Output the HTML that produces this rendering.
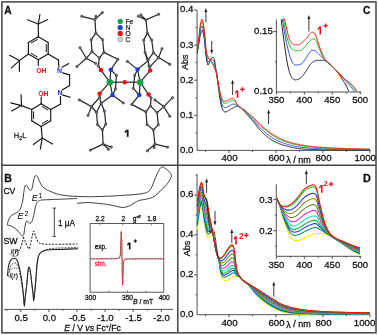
<!DOCTYPE html>
<html><head><meta charset="utf-8"><style>
html,body{margin:0;padding:0;background:#fff;}
body{width:378px;height:335px;overflow:hidden;}
svg{display:block;font-family:"Liberation Sans",sans-serif;will-change:transform;}
</style></head><body>
<svg width="378" height="335" viewBox="0 0 378 335">
<rect width="378" height="335" fill="#fff"/>
<line x1="38.3" y1="36.7" x2="48.2" y2="42.45" stroke="#141414" stroke-width="1.15" stroke-linecap="round"/>
<line x1="48.2" y1="42.45" x2="48.2" y2="53.95" stroke="#141414" stroke-width="1.15" stroke-linecap="round"/>
<line x1="48.2" y1="53.95" x2="38.3" y2="59.7" stroke="#141414" stroke-width="1.15" stroke-linecap="round"/>
<line x1="38.3" y1="59.7" x2="28.4" y2="53.95" stroke="#141414" stroke-width="1.15" stroke-linecap="round"/>
<line x1="28.4" y1="53.95" x2="28.4" y2="42.45" stroke="#141414" stroke-width="1.15" stroke-linecap="round"/>
<line x1="28.4" y1="42.45" x2="38.3" y2="36.7" stroke="#141414" stroke-width="1.15" stroke-linecap="round"/>
<line x1="37.27" y1="39.5" x2="31.33" y2="42.95" stroke="#141414" stroke-width="1" stroke-linecap="round"/>
<line x1="31.33" y1="53.45" x2="37.27" y2="56.9" stroke="#141414" stroke-width="1" stroke-linecap="round"/>
<line x1="46.3" y1="44.75" x2="46.3" y2="51.65" stroke="#141414" stroke-width="1" stroke-linecap="round"/>
<line x1="41.2" y1="103.8" x2="50.7" y2="109.45" stroke="#141414" stroke-width="1.15" stroke-linecap="round"/>
<line x1="50.7" y1="109.45" x2="50.7" y2="120.75" stroke="#141414" stroke-width="1.15" stroke-linecap="round"/>
<line x1="50.7" y1="120.75" x2="41.2" y2="126.4" stroke="#141414" stroke-width="1.15" stroke-linecap="round"/>
<line x1="41.2" y1="126.4" x2="31.7" y2="120.75" stroke="#141414" stroke-width="1.15" stroke-linecap="round"/>
<line x1="31.7" y1="120.75" x2="31.7" y2="109.45" stroke="#141414" stroke-width="1.15" stroke-linecap="round"/>
<line x1="31.7" y1="109.45" x2="41.2" y2="103.8" stroke="#141414" stroke-width="1.15" stroke-linecap="round"/>
<line x1="42.17" y1="106.59" x2="47.87" y2="109.98" stroke="#141414" stroke-width="1" stroke-linecap="round"/>
<line x1="33.6" y1="111.71" x2="33.6" y2="118.49" stroke="#141414" stroke-width="1" stroke-linecap="round"/>
<line x1="42.17" y1="123.61" x2="47.87" y2="120.22" stroke="#141414" stroke-width="1" stroke-linecap="round"/>
<line x1="38.3" y1="36.7" x2="38.3" y2="24" stroke="#141414" stroke-width="1.15" stroke-linecap="round"/>
<line x1="38.3" y1="24" x2="27.4" y2="19.8" stroke="#141414" stroke-width="1.15" stroke-linecap="round"/>
<line x1="38.3" y1="24" x2="47.7" y2="19.5" stroke="#141414" stroke-width="1.15" stroke-linecap="round"/>
<line x1="38.3" y1="24" x2="39.9" y2="14.6" stroke="#141414" stroke-width="1.15" stroke-linecap="round"/>
<line x1="28.4" y1="53.95" x2="19.4" y2="60.6" stroke="#141414" stroke-width="1.15" stroke-linecap="round"/>
<line x1="19.4" y1="60.6" x2="9.6" y2="55.3" stroke="#141414" stroke-width="1.15" stroke-linecap="round"/>
<line x1="19.4" y1="60.6" x2="11.2" y2="68.1" stroke="#141414" stroke-width="1.15" stroke-linecap="round"/>
<line x1="19.4" y1="60.6" x2="19.4" y2="71.2" stroke="#141414" stroke-width="1.15" stroke-linecap="round"/>
<line x1="38.3" y1="59.7" x2="38.3" y2="65.6" stroke="#141414" stroke-width="1.15" stroke-linecap="round"/>
<line x1="48.2" y1="53.95" x2="58.4" y2="59.9" stroke="#141414" stroke-width="1.15" stroke-linecap="round"/>
<line x1="58.4" y1="59.9" x2="58.9" y2="67.2" stroke="#141414" stroke-width="1.15" stroke-linecap="round"/>
<line x1="62.2" y1="67.2" x2="68.8" y2="63.6" stroke="#141414" stroke-width="1.15" stroke-linecap="round"/>
<line x1="62.6" y1="72.9" x2="69.6" y2="74.9" stroke="#141414" stroke-width="1.15" stroke-linecap="round"/>
<line x1="69.6" y1="74.9" x2="69.6" y2="85.4" stroke="#141414" stroke-width="1.15" stroke-linecap="round"/>
<line x1="69.6" y1="85.4" x2="62.6" y2="89.8" stroke="#141414" stroke-width="1.15" stroke-linecap="round"/>
<line x1="62.8" y1="95.1" x2="70.3" y2="97.3" stroke="#141414" stroke-width="1.15" stroke-linecap="round"/>
<line x1="60.4" y1="96.3" x2="60.6" y2="104" stroke="#141414" stroke-width="1.15" stroke-linecap="round"/>
<line x1="60.6" y1="104" x2="50.7" y2="109.45" stroke="#141414" stroke-width="1.15" stroke-linecap="round"/>
<line x1="41.2" y1="103.8" x2="41.2" y2="97" stroke="#141414" stroke-width="1.15" stroke-linecap="round"/>
<line x1="31.7" y1="109.45" x2="21.5" y2="105.6" stroke="#141414" stroke-width="1.15" stroke-linecap="round"/>
<line x1="21.5" y1="105.6" x2="10.8" y2="102.9" stroke="#141414" stroke-width="1.15" stroke-linecap="round"/>
<line x1="21.5" y1="105.6" x2="11.6" y2="111" stroke="#141414" stroke-width="1.15" stroke-linecap="round"/>
<line x1="21.5" y1="105.6" x2="21.1" y2="94.9" stroke="#141414" stroke-width="1.15" stroke-linecap="round"/>
<line x1="41.2" y1="126.4" x2="42.2" y2="138.1" stroke="#141414" stroke-width="1.15" stroke-linecap="round"/>
<line x1="42.2" y1="138.1" x2="33.4" y2="144.5" stroke="#141414" stroke-width="1.15" stroke-linecap="round"/>
<line x1="42.2" y1="138.1" x2="52.5" y2="143.9" stroke="#141414" stroke-width="1.15" stroke-linecap="round"/>
<line x1="42.2" y1="138.1" x2="40.4" y2="148.9" stroke="#141414" stroke-width="1.15" stroke-linecap="round"/>
<text x="41.4" y="73.4" font-size="6.9" fill="#ee1c24" text-anchor="middle" font-weight="bold">OH</text>
<text x="43.4" y="95.9" font-size="6.9" fill="#ee1c24" text-anchor="middle" font-weight="bold">OH</text>
<text x="59.5" y="73.3" font-size="7" fill="#1530cc" text-anchor="middle" font-weight="bold">N</text>
<text x="60" y="95.1" font-size="7" fill="#1530cc" text-anchor="middle" font-weight="bold">N</text>
<text x="13.8" y="137.7" font-size="7.6" fill="#333" stroke="#333" stroke-width="0.35">H<tspan font-size="5.2" dy="1.9">2</tspan><tspan dy="-1.9">L</tspan></text>
<line x1="95.8" y1="33.1" x2="102.6" y2="39.7" stroke="#262626" stroke-width="1.2"/>
<line x1="102.6" y1="39.7" x2="103.9" y2="52.4" stroke="#262626" stroke-width="1.2"/>
<line x1="103.9" y1="52.4" x2="99.3" y2="57.9" stroke="#262626" stroke-width="1.2"/>
<line x1="99.3" y1="57.9" x2="92" y2="51.6" stroke="#262626" stroke-width="1.2"/>
<line x1="92" y1="51.6" x2="91.2" y2="39.7" stroke="#262626" stroke-width="1.2"/>
<line x1="91.2" y1="39.7" x2="95.8" y2="33.1" stroke="#262626" stroke-width="1.2"/>
<line x1="95.8" y1="33.1" x2="94.9" y2="19.6" stroke="#262626" stroke-width="1.2"/>
<line x1="94.9" y1="19.6" x2="81.8" y2="16.3" stroke="#262626" stroke-width="1.2"/>
<line x1="94.9" y1="19.6" x2="102.4" y2="12.5" stroke="#262626" stroke-width="1.2"/>
<line x1="94.9" y1="19.6" x2="95.9" y2="16.3" stroke="#262626" stroke-width="1.2"/>
<line x1="92" y1="51.6" x2="86.3" y2="58.3" stroke="#262626" stroke-width="1.2"/>
<line x1="86.3" y1="58.3" x2="80" y2="47.8" stroke="#262626" stroke-width="1.2"/>
<line x1="86.3" y1="58.3" x2="76.9" y2="66.6" stroke="#262626" stroke-width="1.2"/>
<line x1="86.3" y1="58.3" x2="95.7" y2="63.5" stroke="#262626" stroke-width="1.2"/>
<line x1="99.3" y1="57.9" x2="98.3" y2="66.1" stroke="#262626" stroke-width="1.2"/>
<line x1="98.3" y1="66.1" x2="100.9" y2="70.1" stroke="#262626" stroke-width="1.2"/>
<line x1="103.9" y1="52.4" x2="117.8" y2="59.3" stroke="#262626" stroke-width="1.2"/>
<line x1="117.8" y1="59.3" x2="110.8" y2="69.8" stroke="#262626" stroke-width="1.2"/>
<line x1="110.8" y1="69.8" x2="116.4" y2="75.4" stroke="#262626" stroke-width="1.2"/>
<line x1="116.4" y1="75.4" x2="115.5" y2="88.8" stroke="#262626" stroke-width="1.2"/>
<line x1="115.5" y1="88.8" x2="112.5" y2="95.1" stroke="#262626" stroke-width="1.2"/>
<line x1="100.9" y1="70.1" x2="109.8" y2="82.2" stroke="#262626" stroke-width="1.2"/>
<line x1="110.8" y1="69.8" x2="109.8" y2="82.2" stroke="#262626" stroke-width="1.2"/>
<line x1="99.6" y1="93.7" x2="109.8" y2="82.2" stroke="#262626" stroke-width="1.2"/>
<line x1="112.5" y1="95.1" x2="109.8" y2="82.2" stroke="#262626" stroke-width="1.2"/>
<line x1="109.8" y1="82.2" x2="124.7" y2="82.2" stroke="#262626" stroke-width="1.2"/>
<line x1="124.7" y1="82.2" x2="140.2" y2="82.2" stroke="#262626" stroke-width="1.2"/>
<line x1="101.2" y1="103.3" x2="104.5" y2="111.3" stroke="#262626" stroke-width="1.2"/>
<line x1="104.5" y1="111.3" x2="105.8" y2="124.1" stroke="#262626" stroke-width="1.2"/>
<line x1="105.8" y1="124.1" x2="102.4" y2="129.9" stroke="#262626" stroke-width="1.2"/>
<line x1="102.4" y1="129.9" x2="97.5" y2="124.5" stroke="#262626" stroke-width="1.2"/>
<line x1="97.5" y1="124.5" x2="96.5" y2="112.5" stroke="#262626" stroke-width="1.2"/>
<line x1="96.5" y1="112.5" x2="101.2" y2="103.3" stroke="#262626" stroke-width="1.2"/>
<line x1="99.6" y1="93.7" x2="99.6" y2="97.4" stroke="#262626" stroke-width="1.2"/>
<line x1="99.6" y1="97.4" x2="101.2" y2="103.3" stroke="#262626" stroke-width="1.2"/>
<line x1="112.5" y1="95.1" x2="101.2" y2="103.3" stroke="#262626" stroke-width="1.2"/>
<line x1="112.5" y1="95.1" x2="123.3" y2="102.9" stroke="#262626" stroke-width="1.2"/>
<line x1="96.5" y1="112.5" x2="91.5" y2="106.5" stroke="#262626" stroke-width="1.2"/>
<line x1="91.5" y1="106.5" x2="79.2" y2="99.9" stroke="#262626" stroke-width="1.2"/>
<line x1="91.5" y1="106.5" x2="88.1" y2="115.4" stroke="#262626" stroke-width="1.2"/>
<line x1="91.5" y1="106.5" x2="99.6" y2="97.4" stroke="#262626" stroke-width="1.2"/>
<line x1="102.4" y1="129.9" x2="103.1" y2="144.1" stroke="#262626" stroke-width="1.2"/>
<line x1="103.1" y1="144.1" x2="90.4" y2="150.1" stroke="#262626" stroke-width="1.2"/>
<line x1="103.1" y1="144.1" x2="108.4" y2="149.3" stroke="#262626" stroke-width="1.2"/>
<line x1="103.1" y1="144.1" x2="111.3" y2="147.1" stroke="#262626" stroke-width="1.2"/>
<line x1="147.4" y1="33.1" x2="151.7" y2="40.1" stroke="#262626" stroke-width="1.2"/>
<line x1="151.7" y1="40.1" x2="153.4" y2="52.6" stroke="#262626" stroke-width="1.2"/>
<line x1="153.4" y1="52.6" x2="148.1" y2="59.9" stroke="#262626" stroke-width="1.2"/>
<line x1="148.1" y1="59.9" x2="145.1" y2="52.6" stroke="#262626" stroke-width="1.2"/>
<line x1="145.1" y1="52.6" x2="143.7" y2="40.1" stroke="#262626" stroke-width="1.2"/>
<line x1="143.7" y1="40.1" x2="147.4" y2="33.1" stroke="#262626" stroke-width="1.2"/>
<line x1="147.4" y1="33.1" x2="145.9" y2="19.9" stroke="#262626" stroke-width="1.2"/>
<line x1="145.9" y1="19.9" x2="138.4" y2="16.2" stroke="#262626" stroke-width="1.2"/>
<line x1="145.9" y1="19.9" x2="140.9" y2="15" stroke="#262626" stroke-width="1.2"/>
<line x1="145.9" y1="19.9" x2="158.6" y2="14.3" stroke="#262626" stroke-width="1.2"/>
<line x1="153.4" y1="52.6" x2="158.6" y2="57.6" stroke="#262626" stroke-width="1.2"/>
<line x1="158.6" y1="57.6" x2="162" y2="48.7" stroke="#262626" stroke-width="1.2"/>
<line x1="158.6" y1="57.6" x2="169.8" y2="64.3" stroke="#262626" stroke-width="1.2"/>
<line x1="158.6" y1="57.6" x2="149.8" y2="66.9" stroke="#262626" stroke-width="1.2"/>
<line x1="148.1" y1="59.9" x2="148.9" y2="65.8" stroke="#262626" stroke-width="1.2"/>
<line x1="148.9" y1="65.8" x2="150.1" y2="70.6" stroke="#262626" stroke-width="1.2"/>
<line x1="145.1" y1="52.6" x2="147.6" y2="61.3" stroke="#262626" stroke-width="1.2"/>
<line x1="147.6" y1="61.3" x2="137.5" y2="69.4" stroke="#262626" stroke-width="1.2"/>
<line x1="137.5" y1="69.4" x2="127.4" y2="61.4" stroke="#262626" stroke-width="1.2"/>
<line x1="137.5" y1="69.4" x2="134.7" y2="75.4" stroke="#262626" stroke-width="1.2"/>
<line x1="134.7" y1="75.4" x2="133.3" y2="88.4" stroke="#262626" stroke-width="1.2"/>
<line x1="133.3" y1="88.4" x2="139.3" y2="95" stroke="#262626" stroke-width="1.2"/>
<line x1="137.5" y1="69.4" x2="140.2" y2="82.2" stroke="#262626" stroke-width="1.2"/>
<line x1="150.1" y1="70.6" x2="140.2" y2="82.2" stroke="#262626" stroke-width="1.2"/>
<line x1="139.3" y1="95" x2="140.2" y2="82.2" stroke="#262626" stroke-width="1.2"/>
<line x1="148.6" y1="94.6" x2="140.2" y2="82.2" stroke="#262626" stroke-width="1.2"/>
<line x1="150.4" y1="105.9" x2="157.1" y2="112.6" stroke="#262626" stroke-width="1.2"/>
<line x1="157.1" y1="112.6" x2="158.3" y2="124.8" stroke="#262626" stroke-width="1.2"/>
<line x1="158.3" y1="124.8" x2="153.4" y2="129.9" stroke="#262626" stroke-width="1.2"/>
<line x1="153.4" y1="129.9" x2="147" y2="124.5" stroke="#262626" stroke-width="1.2"/>
<line x1="147" y1="124.5" x2="145.9" y2="111.9" stroke="#262626" stroke-width="1.2"/>
<line x1="145.9" y1="111.9" x2="150.4" y2="105.9" stroke="#262626" stroke-width="1.2"/>
<line x1="148.6" y1="94.6" x2="151.1" y2="97.9" stroke="#262626" stroke-width="1.2"/>
<line x1="151.1" y1="97.9" x2="150.4" y2="105.9" stroke="#262626" stroke-width="1.2"/>
<line x1="139.3" y1="95" x2="131.7" y2="104.4" stroke="#262626" stroke-width="1.2"/>
<line x1="131.7" y1="104.4" x2="145.9" y2="111.9" stroke="#262626" stroke-width="1.2"/>
<line x1="157.1" y1="112.6" x2="163.8" y2="106.6" stroke="#262626" stroke-width="1.2"/>
<line x1="163.8" y1="106.6" x2="154.9" y2="99.9" stroke="#262626" stroke-width="1.2"/>
<line x1="163.8" y1="106.6" x2="172.5" y2="97.7" stroke="#262626" stroke-width="1.2"/>
<line x1="163.8" y1="106.6" x2="169.8" y2="116.3" stroke="#262626" stroke-width="1.2"/>
<line x1="153.4" y1="129.9" x2="154.9" y2="144.1" stroke="#262626" stroke-width="1.2"/>
<line x1="154.9" y1="144.1" x2="147.4" y2="150.8" stroke="#262626" stroke-width="1.2"/>
<line x1="154.9" y1="144.1" x2="167.5" y2="147.1" stroke="#262626" stroke-width="1.2"/>
<line x1="154.9" y1="144.1" x2="154.1" y2="147.6" stroke="#262626" stroke-width="1.2"/>
<circle cx="95.8" cy="33.1" r="1.2" fill="#777" stroke="#2a2a2a" stroke-width="0.55"/>
<circle cx="102.6" cy="39.7" r="1.2" fill="#777" stroke="#2a2a2a" stroke-width="0.55"/>
<circle cx="103.9" cy="52.4" r="1.2" fill="#777" stroke="#2a2a2a" stroke-width="0.55"/>
<circle cx="99.3" cy="57.9" r="1.2" fill="#777" stroke="#2a2a2a" stroke-width="0.55"/>
<circle cx="92" cy="51.6" r="1.2" fill="#777" stroke="#2a2a2a" stroke-width="0.55"/>
<circle cx="91.2" cy="39.7" r="1.2" fill="#777" stroke="#2a2a2a" stroke-width="0.55"/>
<circle cx="94.9" cy="19.6" r="1.2" fill="#777" stroke="#2a2a2a" stroke-width="0.55"/>
<circle cx="81.8" cy="16.3" r="1.2" fill="#777" stroke="#2a2a2a" stroke-width="0.55"/>
<circle cx="102.4" cy="12.5" r="1.2" fill="#777" stroke="#2a2a2a" stroke-width="0.55"/>
<circle cx="95.9" cy="16.3" r="1.2" fill="#777" stroke="#2a2a2a" stroke-width="0.55"/>
<circle cx="86.3" cy="58.3" r="1.2" fill="#777" stroke="#2a2a2a" stroke-width="0.55"/>
<circle cx="80" cy="47.8" r="1.2" fill="#777" stroke="#2a2a2a" stroke-width="0.55"/>
<circle cx="76.9" cy="66.6" r="1.2" fill="#777" stroke="#2a2a2a" stroke-width="0.55"/>
<circle cx="95.7" cy="63.5" r="1.2" fill="#777" stroke="#2a2a2a" stroke-width="0.55"/>
<circle cx="98.3" cy="66.1" r="1.2" fill="#777" stroke="#2a2a2a" stroke-width="0.55"/>
<circle cx="117.8" cy="59.3" r="1.2" fill="#777" stroke="#2a2a2a" stroke-width="0.55"/>
<circle cx="116.4" cy="75.4" r="1.2" fill="#777" stroke="#2a2a2a" stroke-width="0.55"/>
<circle cx="115.5" cy="88.8" r="1.2" fill="#777" stroke="#2a2a2a" stroke-width="0.55"/>
<circle cx="101.2" cy="103.3" r="1.2" fill="#777" stroke="#2a2a2a" stroke-width="0.55"/>
<circle cx="104.5" cy="111.3" r="1.2" fill="#777" stroke="#2a2a2a" stroke-width="0.55"/>
<circle cx="105.8" cy="124.1" r="1.2" fill="#777" stroke="#2a2a2a" stroke-width="0.55"/>
<circle cx="102.4" cy="129.9" r="1.2" fill="#777" stroke="#2a2a2a" stroke-width="0.55"/>
<circle cx="97.5" cy="124.5" r="1.2" fill="#777" stroke="#2a2a2a" stroke-width="0.55"/>
<circle cx="96.5" cy="112.5" r="1.2" fill="#777" stroke="#2a2a2a" stroke-width="0.55"/>
<circle cx="99.6" cy="97.4" r="1.2" fill="#777" stroke="#2a2a2a" stroke-width="0.55"/>
<circle cx="123.3" cy="102.9" r="1.2" fill="#777" stroke="#2a2a2a" stroke-width="0.55"/>
<circle cx="91.5" cy="106.5" r="1.2" fill="#777" stroke="#2a2a2a" stroke-width="0.55"/>
<circle cx="79.2" cy="99.9" r="1.2" fill="#777" stroke="#2a2a2a" stroke-width="0.55"/>
<circle cx="88.1" cy="115.4" r="1.2" fill="#777" stroke="#2a2a2a" stroke-width="0.55"/>
<circle cx="103.1" cy="144.1" r="1.2" fill="#777" stroke="#2a2a2a" stroke-width="0.55"/>
<circle cx="90.4" cy="150.1" r="1.2" fill="#777" stroke="#2a2a2a" stroke-width="0.55"/>
<circle cx="108.4" cy="149.3" r="1.2" fill="#777" stroke="#2a2a2a" stroke-width="0.55"/>
<circle cx="111.3" cy="147.1" r="1.2" fill="#777" stroke="#2a2a2a" stroke-width="0.55"/>
<circle cx="147.4" cy="33.1" r="1.2" fill="#777" stroke="#2a2a2a" stroke-width="0.55"/>
<circle cx="151.7" cy="40.1" r="1.2" fill="#777" stroke="#2a2a2a" stroke-width="0.55"/>
<circle cx="153.4" cy="52.6" r="1.2" fill="#777" stroke="#2a2a2a" stroke-width="0.55"/>
<circle cx="148.1" cy="59.9" r="1.2" fill="#777" stroke="#2a2a2a" stroke-width="0.55"/>
<circle cx="145.1" cy="52.6" r="1.2" fill="#777" stroke="#2a2a2a" stroke-width="0.55"/>
<circle cx="143.7" cy="40.1" r="1.2" fill="#777" stroke="#2a2a2a" stroke-width="0.55"/>
<circle cx="145.9" cy="19.9" r="1.2" fill="#777" stroke="#2a2a2a" stroke-width="0.55"/>
<circle cx="138.4" cy="16.2" r="1.2" fill="#777" stroke="#2a2a2a" stroke-width="0.55"/>
<circle cx="140.9" cy="15" r="1.2" fill="#777" stroke="#2a2a2a" stroke-width="0.55"/>
<circle cx="158.6" cy="14.3" r="1.2" fill="#777" stroke="#2a2a2a" stroke-width="0.55"/>
<circle cx="158.6" cy="57.6" r="1.2" fill="#777" stroke="#2a2a2a" stroke-width="0.55"/>
<circle cx="162" cy="48.7" r="1.2" fill="#777" stroke="#2a2a2a" stroke-width="0.55"/>
<circle cx="169.8" cy="64.3" r="1.2" fill="#777" stroke="#2a2a2a" stroke-width="0.55"/>
<circle cx="149.8" cy="66.9" r="1.2" fill="#777" stroke="#2a2a2a" stroke-width="0.55"/>
<circle cx="148.9" cy="65.8" r="1.2" fill="#777" stroke="#2a2a2a" stroke-width="0.55"/>
<circle cx="127.4" cy="61.4" r="1.2" fill="#777" stroke="#2a2a2a" stroke-width="0.55"/>
<circle cx="134.7" cy="75.4" r="1.2" fill="#777" stroke="#2a2a2a" stroke-width="0.55"/>
<circle cx="133.3" cy="88.4" r="1.2" fill="#777" stroke="#2a2a2a" stroke-width="0.55"/>
<circle cx="150.4" cy="105.9" r="1.2" fill="#777" stroke="#2a2a2a" stroke-width="0.55"/>
<circle cx="157.1" cy="112.6" r="1.2" fill="#777" stroke="#2a2a2a" stroke-width="0.55"/>
<circle cx="158.3" cy="124.8" r="1.2" fill="#777" stroke="#2a2a2a" stroke-width="0.55"/>
<circle cx="153.4" cy="129.9" r="1.2" fill="#777" stroke="#2a2a2a" stroke-width="0.55"/>
<circle cx="147" cy="124.5" r="1.2" fill="#777" stroke="#2a2a2a" stroke-width="0.55"/>
<circle cx="145.9" cy="111.9" r="1.2" fill="#777" stroke="#2a2a2a" stroke-width="0.55"/>
<circle cx="151.1" cy="97.9" r="1.2" fill="#777" stroke="#2a2a2a" stroke-width="0.55"/>
<circle cx="131.7" cy="104.4" r="1.2" fill="#777" stroke="#2a2a2a" stroke-width="0.55"/>
<circle cx="163.8" cy="106.6" r="1.2" fill="#777" stroke="#2a2a2a" stroke-width="0.55"/>
<circle cx="154.9" cy="99.9" r="1.2" fill="#777" stroke="#2a2a2a" stroke-width="0.55"/>
<circle cx="172.5" cy="97.7" r="1.2" fill="#777" stroke="#2a2a2a" stroke-width="0.55"/>
<circle cx="169.8" cy="116.3" r="1.2" fill="#777" stroke="#2a2a2a" stroke-width="0.55"/>
<circle cx="154.9" cy="144.1" r="1.2" fill="#777" stroke="#2a2a2a" stroke-width="0.55"/>
<circle cx="147.4" cy="150.8" r="1.2" fill="#777" stroke="#2a2a2a" stroke-width="0.55"/>
<circle cx="167.5" cy="147.1" r="1.2" fill="#777" stroke="#2a2a2a" stroke-width="0.55"/>
<circle cx="154.1" cy="147.6" r="1.2" fill="#777" stroke="#2a2a2a" stroke-width="0.55"/>
<circle cx="109.8" cy="82.2" r="3.3" fill="#16a04a"/>
<circle cx="140.2" cy="82.2" r="3.3" fill="#16a04a"/>
<circle cx="110.8" cy="69.8" r="2.25" fill="#1f3fd0"/>
<circle cx="112.5" cy="95.1" r="2.25" fill="#1f3fd0"/>
<circle cx="137.5" cy="69.4" r="2.25" fill="#1f3fd0"/>
<circle cx="139.3" cy="95" r="2.25" fill="#1f3fd0"/>
<circle cx="100.9" cy="70.1" r="2.25" fill="#ee1111"/>
<circle cx="99.6" cy="93.7" r="2.25" fill="#ee1111"/>
<circle cx="150.1" cy="70.6" r="2.25" fill="#ee1111"/>
<circle cx="148.6" cy="94.6" r="2.25" fill="#ee1111"/>
<circle cx="124.7" cy="82.2" r="2.25" fill="#ee1111"/>
<circle cx="120.2" cy="21.4" r="2.6" fill="#16a04a"/>
<circle cx="120.2" cy="27.5" r="2.6" fill="#1f3fd0"/>
<circle cx="120.2" cy="33.4" r="2.6" fill="#ee1111"/>
<circle cx="120.2" cy="39.4" r="2.6" fill="#c8d0d0" stroke="#8a9090" stroke-width="0.5"/>
<text x="125.4" y="23.8" font-size="6.7" fill="#222" stroke="#222" stroke-width="0.25">Fe</text>
<text x="125.4" y="30" font-size="6.7" fill="#222" stroke="#222" stroke-width="0.25">N</text>
<text x="125.4" y="35.9" font-size="6.7" fill="#222" stroke="#222" stroke-width="0.25">O</text>
<text x="125.4" y="41.9" font-size="6.7" fill="#222" stroke="#222" stroke-width="0.25">C</text>
<rect x="1.9" y="1.9" width="374.1" height="330.9" fill="none" stroke="#444" stroke-width="1.5"/>
<line x1="177.8" y1="1.8" x2="177.8" y2="332.8" stroke="#444" stroke-width="1.5"/>
<line x1="1.9" y1="165.2" x2="375.8" y2="165.2" stroke="#444" stroke-width="1.6"/>
<text x="4.2" y="14.4" font-size="10.2" text-anchor="start" font-weight="bold" font-style="normal" fill="#111" stroke="#111" stroke-width="0.28">A</text>
<text x="4.2" y="181.8" font-size="10.6" text-anchor="start" font-weight="bold" font-style="normal" fill="#111" stroke="#111" stroke-width="0.28">B</text>
<text x="363" y="14" font-size="10.2" text-anchor="start" font-weight="bold" font-style="normal" fill="#111" stroke="#111" stroke-width="0.28">C</text>
<text x="363" y="181.5" font-size="10.9" text-anchor="start" font-weight="bold" font-style="normal" fill="#111" stroke="#111" stroke-width="0.28">D</text>
<line x1="197.1" y1="10.2" x2="197.1" y2="150.4" stroke="#333" stroke-width="0.85"/>
<line x1="194.1" y1="115.3" x2="197.1" y2="115.3" stroke="#333" stroke-width="0.85"/>
<line x1="194.1" y1="80.2" x2="197.1" y2="80.2" stroke="#333" stroke-width="0.85"/>
<line x1="194.1" y1="45.1" x2="197.1" y2="45.1" stroke="#333" stroke-width="0.85"/>
<line x1="194.1" y1="10" x2="197.1" y2="10" stroke="#333" stroke-width="0.85"/>
<line x1="195.5" y1="132.85" x2="197.1" y2="132.85" stroke="#333" stroke-width="0.8"/>
<line x1="195.5" y1="97.75" x2="197.1" y2="97.75" stroke="#333" stroke-width="0.8"/>
<line x1="195.5" y1="62.65" x2="197.1" y2="62.65" stroke="#333" stroke-width="0.8"/>
<line x1="195.5" y1="27.55" x2="197.1" y2="27.55" stroke="#333" stroke-width="0.8"/>
<text x="193.5" y="152.8" font-size="9.7" text-anchor="end" font-weight="normal" font-style="normal" fill="#111" stroke="#111" stroke-width="0.28">0.0</text>
<text x="193.5" y="117.7" font-size="9.7" text-anchor="end" font-weight="normal" font-style="normal" fill="#111" stroke="#111" stroke-width="0.28">0.1</text>
<text x="193.5" y="82.6" font-size="9.7" text-anchor="end" font-weight="normal" font-style="normal" fill="#111" stroke="#111" stroke-width="0.28">0.2</text>
<text x="193.5" y="47.5" font-size="9.7" text-anchor="end" font-weight="normal" font-style="normal" fill="#111" stroke="#111" stroke-width="0.28">0.3</text>
<text x="193.5" y="12.4" font-size="9.7" text-anchor="end" font-weight="normal" font-style="normal" fill="#111" stroke="#111" stroke-width="0.28">0.4</text>
<line x1="197.1" y1="150.4" x2="370.5" y2="150.4" stroke="#333" stroke-width="0.85"/>
<line x1="228.98" y1="150.4" x2="228.98" y2="153" stroke="#333" stroke-width="0.85"/>
<line x1="275.94" y1="150.4" x2="275.94" y2="153" stroke="#333" stroke-width="0.85"/>
<line x1="322.9" y1="150.4" x2="322.9" y2="153" stroke="#333" stroke-width="0.85"/>
<line x1="369.86" y1="150.4" x2="369.86" y2="153" stroke="#333" stroke-width="0.85"/>
<line x1="205.5" y1="150.4" x2="205.5" y2="151.9" stroke="#333" stroke-width="0.8"/>
<line x1="252.46" y1="150.4" x2="252.46" y2="151.9" stroke="#333" stroke-width="0.8"/>
<line x1="299.42" y1="150.4" x2="299.42" y2="151.9" stroke="#333" stroke-width="0.8"/>
<line x1="346.38" y1="150.4" x2="346.38" y2="151.9" stroke="#333" stroke-width="0.8"/>
<text x="229.58" y="161.3" font-size="9.7" text-anchor="middle" font-weight="normal" font-style="normal" fill="#111" stroke="#111" stroke-width="0.28">400</text>
<text x="276.54" y="161.3" font-size="9.7" text-anchor="middle" font-weight="normal" font-style="normal" fill="#111" stroke="#111" stroke-width="0.28">600</text>
<text x="323.5" y="161.3" font-size="9.7" text-anchor="middle" font-weight="normal" font-style="normal" fill="#111" stroke="#111" stroke-width="0.28">800</text>
<text x="365.2" y="161.3" font-size="9.7" text-anchor="middle" font-weight="normal" font-style="normal" fill="#111" stroke="#111" stroke-width="0.28">1000</text>
<line x1="197.1" y1="174.3" x2="197.1" y2="314.7" stroke="#333" stroke-width="0.85"/>
<line x1="194.1" y1="274.8" x2="197.1" y2="274.8" stroke="#333" stroke-width="0.85"/>
<line x1="194.1" y1="234.9" x2="197.1" y2="234.9" stroke="#333" stroke-width="0.85"/>
<line x1="194.1" y1="195" x2="197.1" y2="195" stroke="#333" stroke-width="0.85"/>
<line x1="195.5" y1="294.75" x2="197.1" y2="294.75" stroke="#333" stroke-width="0.8"/>
<line x1="195.5" y1="254.85" x2="197.1" y2="254.85" stroke="#333" stroke-width="0.8"/>
<line x1="195.5" y1="214.95" x2="197.1" y2="214.95" stroke="#333" stroke-width="0.8"/>
<line x1="195.5" y1="175.05" x2="197.1" y2="175.05" stroke="#333" stroke-width="0.8"/>
<text x="193.5" y="317.1" font-size="9.7" text-anchor="end" font-weight="normal" font-style="normal" fill="#111" stroke="#111" stroke-width="0.28">0.0</text>
<text x="193.5" y="277.2" font-size="9.7" text-anchor="end" font-weight="normal" font-style="normal" fill="#111" stroke="#111" stroke-width="0.28">0.2</text>
<text x="193.5" y="237.3" font-size="9.7" text-anchor="end" font-weight="normal" font-style="normal" fill="#111" stroke="#111" stroke-width="0.28">0.4</text>
<text x="193.5" y="197.4" font-size="9.7" text-anchor="end" font-weight="normal" font-style="normal" fill="#111" stroke="#111" stroke-width="0.28">0.6</text>
<line x1="197.1" y1="314.7" x2="370.5" y2="314.7" stroke="#333" stroke-width="0.85"/>
<line x1="228.98" y1="314.7" x2="228.98" y2="317.3" stroke="#333" stroke-width="0.85"/>
<line x1="275.94" y1="314.7" x2="275.94" y2="317.3" stroke="#333" stroke-width="0.85"/>
<line x1="322.9" y1="314.7" x2="322.9" y2="317.3" stroke="#333" stroke-width="0.85"/>
<line x1="369.86" y1="314.7" x2="369.86" y2="317.3" stroke="#333" stroke-width="0.85"/>
<line x1="205.5" y1="314.7" x2="205.5" y2="316.2" stroke="#333" stroke-width="0.8"/>
<line x1="252.46" y1="314.7" x2="252.46" y2="316.2" stroke="#333" stroke-width="0.8"/>
<line x1="299.42" y1="314.7" x2="299.42" y2="316.2" stroke="#333" stroke-width="0.8"/>
<line x1="346.38" y1="314.7" x2="346.38" y2="316.2" stroke="#333" stroke-width="0.8"/>
<text x="229.58" y="326.4" font-size="9.7" text-anchor="middle" font-weight="normal" font-style="normal" fill="#111" stroke="#111" stroke-width="0.28">400</text>
<text x="276.54" y="326.4" font-size="9.7" text-anchor="middle" font-weight="normal" font-style="normal" fill="#111" stroke="#111" stroke-width="0.28">600</text>
<text x="323.5" y="326.4" font-size="9.7" text-anchor="middle" font-weight="normal" font-style="normal" fill="#111" stroke="#111" stroke-width="0.28">800</text>
<text x="364.6" y="326.4" font-size="9.7" text-anchor="middle" font-weight="normal" font-style="normal" fill="#111" stroke="#111" stroke-width="0.28">1000</text>
<text x="188.3" y="62.2" font-size="8.8" text-anchor="middle" font-weight="normal" font-style="normal" fill="#111" stroke="#111" stroke-width="0.28" transform="rotate(-90 188.3 62.2)">Abs</text>
<text x="189.6" y="248.5" font-size="9" text-anchor="middle" font-weight="normal" font-style="normal" fill="#111" stroke="#111" stroke-width="0.28" transform="rotate(-90 189.6 248.5)">Abs</text>
<text x="286.3" y="162.6" font-size="9" text-anchor="start" font-weight="normal" font-style="normal" fill="#111" stroke="#111" stroke-width="0.28"><tspan dy="0.8">λ</tspan><tspan dy="-0.8"> / nm</tspan></text>
<text x="286.3" y="327.3" font-size="9" text-anchor="start" font-weight="normal" font-style="normal" fill="#111" stroke="#111" stroke-width="0.28"><tspan dy="0.8">λ</tspan><tspan dy="-0.8"> / nm</tspan></text>
<line x1="276.4" y1="19.5" x2="276.4" y2="92" stroke="#333" stroke-width="0.85"/>
<line x1="273.4" y1="31.6" x2="276.4" y2="31.6" stroke="#333" stroke-width="0.85"/>
<line x1="274.8" y1="61.8" x2="276.4" y2="61.8" stroke="#333" stroke-width="0.8"/>
<text x="272.8" y="94.4" font-size="9.6" text-anchor="end" font-weight="normal" font-style="normal" fill="#111" stroke="#111" stroke-width="0.28">0.10</text>
<text x="272.8" y="34" font-size="9.6" text-anchor="end" font-weight="normal" font-style="normal" fill="#111" stroke="#111" stroke-width="0.28">0.15</text>
<line x1="276.4" y1="92" x2="361.5" y2="92" stroke="#333" stroke-width="0.85"/>
<line x1="276.4" y1="92" x2="276.4" y2="94.6" stroke="#333" stroke-width="0.85"/>
<line x1="304.33" y1="92" x2="304.33" y2="94.6" stroke="#333" stroke-width="0.85"/>
<line x1="332.27" y1="92" x2="332.27" y2="94.6" stroke="#333" stroke-width="0.85"/>
<line x1="360.2" y1="92" x2="360.2" y2="94.6" stroke="#333" stroke-width="0.85"/>
<line x1="290.37" y1="92" x2="290.37" y2="93.5" stroke="#333" stroke-width="0.8"/>
<line x1="318.3" y1="92" x2="318.3" y2="93.5" stroke="#333" stroke-width="0.8"/>
<line x1="346.24" y1="92" x2="346.24" y2="93.5" stroke="#333" stroke-width="0.8"/>
<text x="276.4" y="103.2" font-size="9.6" text-anchor="middle" font-weight="normal" font-style="normal" fill="#111" stroke="#111" stroke-width="0.28">350</text>
<text x="304.33" y="103.2" font-size="9.6" text-anchor="middle" font-weight="normal" font-style="normal" fill="#111" stroke="#111" stroke-width="0.28">400</text>
<text x="332.27" y="103.2" font-size="9.6" text-anchor="middle" font-weight="normal" font-style="normal" fill="#111" stroke="#111" stroke-width="0.28">450</text>
<text x="360.2" y="103.2" font-size="9.6" text-anchor="middle" font-weight="normal" font-style="normal" fill="#111" stroke="#111" stroke-width="0.28">500</text>
<line x1="276.3" y1="184.3" x2="276.3" y2="256.3" stroke="#333" stroke-width="0.85"/>
<line x1="273.3" y1="199.6" x2="276.3" y2="199.6" stroke="#333" stroke-width="0.85"/>
<line x1="273.3" y1="230.7" x2="276.3" y2="230.7" stroke="#333" stroke-width="0.85"/>
<line x1="274.7" y1="215.15" x2="276.3" y2="215.15" stroke="#333" stroke-width="0.8"/>
<line x1="274.7" y1="246.25" x2="276.3" y2="246.25" stroke="#333" stroke-width="0.8"/>
<text x="272.7" y="202.9" font-size="9.6" text-anchor="end" font-weight="normal" font-style="normal" fill="#111" stroke="#111" stroke-width="0.28">0.3</text>
<text x="272.7" y="234" font-size="9.6" text-anchor="end" font-weight="normal" font-style="normal" fill="#111" stroke="#111" stroke-width="0.28">0.2</text>
<line x1="276.3" y1="256.3" x2="361.5" y2="256.3" stroke="#333" stroke-width="0.85"/>
<line x1="276.4" y1="256.3" x2="276.4" y2="258.9" stroke="#333" stroke-width="0.85"/>
<line x1="304.33" y1="256.3" x2="304.33" y2="258.9" stroke="#333" stroke-width="0.85"/>
<line x1="332.27" y1="256.3" x2="332.27" y2="258.9" stroke="#333" stroke-width="0.85"/>
<line x1="360.2" y1="256.3" x2="360.2" y2="258.9" stroke="#333" stroke-width="0.85"/>
<line x1="290.37" y1="256.3" x2="290.37" y2="257.8" stroke="#333" stroke-width="0.8"/>
<line x1="318.3" y1="256.3" x2="318.3" y2="257.8" stroke="#333" stroke-width="0.8"/>
<line x1="346.24" y1="256.3" x2="346.24" y2="257.8" stroke="#333" stroke-width="0.8"/>
<text x="276.4" y="267.8" font-size="9.6" text-anchor="middle" font-weight="normal" font-style="normal" fill="#111" stroke="#111" stroke-width="0.28">350</text>
<text x="304.33" y="267.8" font-size="9.6" text-anchor="middle" font-weight="normal" font-style="normal" fill="#111" stroke="#111" stroke-width="0.28">400</text>
<text x="332.27" y="267.8" font-size="9.6" text-anchor="middle" font-weight="normal" font-style="normal" fill="#111" stroke="#111" stroke-width="0.28">450</text>
<text x="360.2" y="267.8" font-size="9.6" text-anchor="middle" font-weight="normal" font-style="normal" fill="#111" stroke="#111" stroke-width="0.28">500</text>
<line x1="4" y1="309.4" x2="173" y2="309.4" stroke="#333" stroke-width="0.85"/>
<line x1="20.8" y1="309.4" x2="20.8" y2="312" stroke="#333" stroke-width="0.85"/>
<line x1="48.9" y1="309.4" x2="48.9" y2="312" stroke="#333" stroke-width="0.85"/>
<line x1="77" y1="309.4" x2="77" y2="312" stroke="#333" stroke-width="0.85"/>
<line x1="105.1" y1="309.4" x2="105.1" y2="312" stroke="#333" stroke-width="0.85"/>
<line x1="133.2" y1="309.4" x2="133.2" y2="312" stroke="#333" stroke-width="0.85"/>
<line x1="161.3" y1="309.4" x2="161.3" y2="312" stroke="#333" stroke-width="0.85"/>
<line x1="6.75" y1="309.4" x2="6.75" y2="310.9" stroke="#333" stroke-width="0.8"/>
<line x1="34.85" y1="309.4" x2="34.85" y2="310.9" stroke="#333" stroke-width="0.8"/>
<line x1="62.95" y1="309.4" x2="62.95" y2="310.9" stroke="#333" stroke-width="0.8"/>
<line x1="91.05" y1="309.4" x2="91.05" y2="310.9" stroke="#333" stroke-width="0.8"/>
<line x1="119.15" y1="309.4" x2="119.15" y2="310.9" stroke="#333" stroke-width="0.8"/>
<line x1="147.25" y1="309.4" x2="147.25" y2="310.9" stroke="#333" stroke-width="0.8"/>
<text x="21.2" y="320.8" font-size="9.6" text-anchor="middle" font-weight="normal" font-style="normal" fill="#111" stroke="#111" stroke-width="0.28">0.5</text>
<text x="49.3" y="320.8" font-size="9.6" text-anchor="middle" font-weight="normal" font-style="normal" fill="#111" stroke="#111" stroke-width="0.28">0.0</text>
<text x="77.3" y="320.8" font-size="9.6" text-anchor="middle" font-weight="normal" font-style="normal" fill="#111" stroke="#111" stroke-width="0.28">-0.5</text>
<text x="105.4" y="320.8" font-size="9.6" text-anchor="middle" font-weight="normal" font-style="normal" fill="#111" stroke="#111" stroke-width="0.28">-1.0</text>
<text x="133.5" y="320.8" font-size="9.6" text-anchor="middle" font-weight="normal" font-style="normal" fill="#111" stroke="#111" stroke-width="0.28">-1.5</text>
<text x="161.6" y="320.8" font-size="9.6" text-anchor="middle" font-weight="normal" font-style="normal" fill="#111" stroke="#111" stroke-width="0.28">-2.0</text>
<text x="64.3" y="330.9" font-size="8.6" text-anchor="start" font-weight="normal" font-style="normal" fill="#111" stroke="#111" stroke-width="0.28"><tspan font-style="italic">E</tspan> / V <tspan font-style="italic">vs</tspan> Fc<tspan font-size="5" dy="-3.2">+</tspan><tspan dy="3.2">/Fc</tspan></text>
<text x="3.4" y="194.3" font-size="8.6" text-anchor="start" font-weight="normal" font-style="normal" fill="#111" stroke="#111" stroke-width="0.28">CV</text>
<text x="3.4" y="243.5" font-size="8.8" text-anchor="start" font-weight="normal" font-style="normal" fill="#111" stroke="#111" stroke-width="0.28">SW</text>
<path d="M7.4 225.1C7.43 224.8 7.4 224.2 7.6 223.3C7.8 222.4 8.13 220.8 8.6 219.7C9.07 218.6 9.6 217.6 10.4 216.7C11.2 215.8 12.32 215 13.4 214.3C14.48 213.6 15.82 213.28 16.9 212.5C17.98 211.72 19.1 210.88 19.9 209.6C20.7 208.32 21.2 206.4 21.7 204.8C22.2 203.2 22.58 201.8 22.9 200C23.22 198.2 23.35 195.97 23.6 194C23.85 192.03 24.13 189.6 24.4 188.2C24.67 186.8 24.93 186.13 25.2 185.6C25.47 185.07 25.7 184.97 26 185C26.3 185.03 26.65 185.33 27 185.8C27.35 186.27 27.68 187.12 28.1 187.8C28.52 188.48 29.07 189.47 29.5 189.9C29.93 190.33 30.35 190.48 30.7 190.4C31.05 190.32 31.32 190 31.6 189.4C31.88 188.8 32.13 187.97 32.4 186.8C32.67 185.63 32.9 183.82 33.2 182.4C33.5 180.98 33.87 179.37 34.2 178.3C34.53 177.23 34.92 176.45 35.2 176C35.48 175.55 35.63 175.62 35.9 175.6C36.17 175.58 36.48 175.62 36.8 175.9C37.12 176.18 37.33 176.37 37.8 177.3C38.27 178.23 38.87 180.02 39.6 181.5C40.33 182.98 41.08 184.87 42.2 186.2C43.32 187.53 45 188.67 46.3 189.5C47.6 190.33 47.97 190.38 50 191.2C52.03 192.02 55.53 193.63 58.5 194.4C61.47 195.17 64.72 195.47 67.8 195.8C70.88 196.13 73.92 196.25 77 196.4C80.08 196.55 83.2 196.67 86.3 196.7C89.4 196.73 91.65 196.7 95.6 196.6C99.55 196.5 105.83 196.28 110 196.1C114.17 195.92 116.08 195.8 120.6 195.5C125.12 195.2 132.97 194.73 137.1 194.3C141.23 193.87 143.33 193.53 145.4 192.9C147.47 192.27 148.37 191.65 149.5 190.5C150.63 189.35 151.37 187.75 152.2 186C153.03 184.25 153.57 182.25 154.5 180C155.43 177.75 156.8 174.5 157.8 172.5C158.8 170.5 159.65 168.93 160.5 168C161.35 167.07 161.98 166.75 162.9 166.9C163.82 167.05 164.98 168.12 166 168.9C167.02 169.68 168.13 170.7 169 171.6C169.87 172.5 170.93 173.15 171.2 174.3C171.47 175.45 171.38 176.75 170.6 178.5C169.82 180.25 168.18 182.75 166.5 184.8C164.82 186.85 162.58 188.83 160.5 190.8C158.42 192.77 156.17 195.25 154 196.6C151.83 197.95 149.97 198.25 147.5 198.9C145.03 199.55 141.45 199.78 139.2 200.5C136.95 201.22 135.78 202.23 134 203.2C132.22 204.17 130.38 205.58 128.5 206.3C126.62 207.02 124.7 207.5 122.7 207.5C120.7 207.5 118.9 206.78 116.5 206.3C114.1 205.82 111.05 205.05 108.3 204.6C105.55 204.15 103.37 203.93 100 203.6C96.63 203.27 91.93 202.65 88.1 202.6C84.27 202.55 78.85 203.18 77 203.3" stroke="#2a2a2a" stroke-width="0.9" fill="none"/>
<path d="M77 198.5C73.92 198.63 63 199.12 58.5 199.3C54 199.48 52.72 199.48 50 199.6C47.28 199.72 43.93 199.83 42.2 200C40.47 200.17 40.43 200.2 39.6 200.6C38.77 201 37.9 201.3 37.2 202.4C36.5 203.5 35.98 205.02 35.4 207.2C34.82 209.38 34.28 213.12 33.7 215.5C33.12 217.88 32.5 220.2 31.9 221.5C31.3 222.8 30.7 223.2 30.1 223.3C29.5 223.4 28.78 222.48 28.3 222.1C27.82 221.72 27.5 221.2 27.2 221C26.9 220.8 26.78 220.42 26.5 220.9C26.22 221.38 25.8 222.6 25.5 223.9C25.2 225.2 24.97 227.02 24.7 228.7C24.43 230.38 24.2 232.82 23.9 234C23.6 235.18 23.27 235.53 22.9 235.8C22.53 236.07 22.3 236.1 21.7 235.6C21.1 235.1 20.1 233.75 19.3 232.8C18.5 231.85 17.78 230.78 16.9 229.9C16.02 229.02 15.08 228.2 14 227.5C12.92 226.8 11.5 226.1 10.4 225.7C9.3 225.3 7.9 225.2 7.4 225.1" stroke="#2a2a2a" stroke-width="0.9" fill="none"/>
<text x="31.8" y="200.5" font-size="9" text-anchor="start" font-weight="normal" font-style="italic" fill="#111" stroke="#111" stroke-width="0.1">E</text>
<text x="38.6" y="197.6" font-size="7" text-anchor="start" font-weight="normal" font-style="normal" fill="#111" stroke="#111" stroke-width="0.05">1</text>
<text x="17.6" y="219.2" font-size="9" text-anchor="start" font-weight="normal" font-style="italic" fill="#111" stroke="#111" stroke-width="0.1">E</text>
<text x="24.4" y="215.7" font-size="7" text-anchor="start" font-weight="normal" font-style="normal" fill="#111" stroke="#111" stroke-width="0.05">2</text>
<line x1="54.3" y1="208.1" x2="54.3" y2="236.4" stroke="#333" stroke-width="0.9"/>
<line x1="52.6" y1="208.1" x2="56" y2="208.1" stroke="#333" stroke-width="0.9"/>
<line x1="52.6" y1="236.4" x2="56" y2="236.4" stroke="#333" stroke-width="0.9"/>
<text x="58" y="225.8" font-size="8.2" text-anchor="start" font-weight="normal" font-style="normal" fill="#111" stroke="#111" stroke-width="0.28">1 μA</text>
<path d="M23.4 236.9C23.78 237.9 24.92 241.1 25.7 242.9C26.48 244.7 27.5 246.75 28.1 247.7C28.7 248.65 28.85 249.38 29.3 248.6C29.75 247.82 30.28 245.27 30.8 243C31.32 240.73 31.93 236.97 32.4 235C32.87 233.03 33.17 231.28 33.6 231.2C34.03 231.12 34.52 233.27 35 234.5C35.48 235.73 35.85 237.23 36.5 238.6C37.15 239.97 37.7 241.78 38.9 242.7C40.1 243.62 41.02 243.83 43.7 244.1C46.38 244.37 49.35 244.32 55 244.3C60.65 244.28 73.83 244.05 77.6 244" stroke="#2a2a2a" stroke-width="1.05" fill="none" stroke-dasharray="2.1 1.3"/>
<path d="M15 252.5C15.42 252.25 16.7 251.5 17.5 251C18.3 250.5 19.13 250.5 19.8 249.5C20.47 248.5 21 246.5 21.5 245C22 243.5 22.48 241.83 22.8 240.5C23.12 239.17 23.3 237.58 23.4 237" stroke="#2a2a2a" stroke-width="1.05" fill="none" stroke-dasharray="2.1 1.3"/>
<path d="M7.5 276C7.62 274.67 7.92 270.08 8.2 268C8.48 265.92 8.7 264.88 9.2 263.5C9.7 262.12 10.37 260.58 11.2 259.7C12.03 258.82 13.2 258.08 14.2 258.2C15.2 258.32 16.33 258.78 17.2 260.4C18.07 262.02 18.67 264.65 19.4 267.9C20.13 271.15 20.95 275.67 21.6 279.9C22.25 284.13 22.85 288.95 23.3 293.3C23.75 297.65 23.97 305.47 24.3 306C24.63 306.53 24.87 300.33 25.3 296.5C25.73 292.67 26.45 287.33 26.9 283C27.35 278.67 27.63 273.17 28 270.5C28.37 267.83 28.73 267 29.1 267C29.47 267 29.78 268 30.2 270.5C30.62 273 31.13 278.08 31.6 282C32.07 285.92 32.65 290.87 33 294C33.35 297.13 33.43 300.88 33.7 300.8C33.97 300.72 34.25 296.97 34.6 293.5C34.95 290.03 35.43 284.5 35.8 280C36.17 275.5 36.42 270.25 36.8 266.5C37.18 262.75 37.52 259.75 38.1 257.5C38.68 255.25 39.18 254.15 40.3 253C41.42 251.85 43.18 251.13 44.8 250.6C46.42 250.07 47.47 250 50 249.8C52.53 249.6 55.33 249.57 60 249.4C64.67 249.23 75 248.9 78 248.8" stroke="#1a1a1a" stroke-width="1.05" fill="none"/>
<path d="M8.5 276.5C8.67 275.42 9.08 271.83 9.5 270C9.92 268.17 10.42 266.58 11 265.5C11.58 264.42 12.25 263.92 13 263.5C13.75 263.08 14.75 262.67 15.5 263C16.25 263.33 16.85 264.17 17.5 265.5C18.15 266.83 18.78 268.42 19.4 271C20.02 273.58 20.6 277.25 21.2 281C21.8 284.75 22.48 289.75 23 293.5C23.52 297.25 23.87 303.42 24.3 303.5C24.73 303.58 25.15 297.42 25.6 294C26.05 290.58 26.57 286.75 27 283C27.43 279.25 27.83 273.92 28.2 271.5C28.57 269.08 28.83 268.42 29.2 268.5C29.57 268.58 29.97 269.58 30.4 272C30.83 274.42 31.33 279.33 31.8 283C32.27 286.67 32.87 291.25 33.2 294C33.53 296.75 33.53 299.83 33.8 299.5C34.07 299.17 34.43 295.42 34.8 292C35.17 288.58 35.6 283.5 36 279C36.4 274.5 36.77 268.83 37.2 265C37.63 261.17 37.97 258.17 38.6 256C39.23 253.83 39.77 253.03 41 252C42.23 250.97 44.17 250.38 46 249.8C47.83 249.22 49.67 248.8 52 248.5C54.33 248.2 55.67 248.15 60 248C64.33 247.85 75 247.67 78 247.6" stroke="#333" stroke-width="0.95" fill="none" stroke-dasharray="1.9 1.2"/>
<text x="10.8" y="254" font-size="6.8" text-anchor="start" font-weight="normal" font-style="normal" fill="#111" stroke="#111" stroke-width="0.15"><tspan font-style="italic">i</tspan>(<tspan font-style="italic">f</tspan>)</text>
<text x="9.6" y="277.6" font-size="6.8" text-anchor="start" font-weight="normal" font-style="normal" fill="#111" stroke="#111" stroke-width="0.15"><tspan font-style="italic">i</tspan>(<tspan font-style="italic">r</tspan>)</text>
<path d="M9.3 253.6 Q14.2 259.5 19.2 253.8" stroke="#333" stroke-width="0.8" fill="none" stroke-dasharray="1.2 0.8"/>
<path d="M9.6 271.5 Q12.5 266.0 17.2 269.0" stroke="#333" stroke-width="0.8" fill="none" stroke-dasharray="1.2 0.8"/>
<rect x="90.1" y="223.6" width="73.7" height="68.6" fill="none" stroke="#333" stroke-width="0.8"/>
<text x="100" y="221" font-size="6.6" text-anchor="middle" font-weight="normal" font-style="normal" fill="#111" stroke="#111" stroke-width="0.28">2.2</text>
<text x="123.4" y="221" font-size="6.6" text-anchor="middle" font-weight="normal" font-style="normal" fill="#111" stroke="#111" stroke-width="0.28">2</text>
<text x="151.8" y="221" font-size="6.6" text-anchor="middle" font-weight="normal" font-style="normal" fill="#111" stroke="#111" stroke-width="0.28">1.8</text>
<text x="132.8" y="221" font-size="6.6" text-anchor="start" font-weight="normal" font-style="normal" fill="#111" stroke="#111" stroke-width="0.28">g<tspan font-size="3.8" dy="-3.0">eff</tspan></text>
<line x1="99.8" y1="223.6" x2="99.8" y2="225.4" stroke="#333" stroke-width="0.6"/>
<line x1="122.8" y1="223.6" x2="122.8" y2="225.4" stroke="#333" stroke-width="0.6"/>
<line x1="151.6" y1="223.6" x2="151.6" y2="225.4" stroke="#333" stroke-width="0.6"/>
<text x="90.6" y="299.7" font-size="6.6" text-anchor="middle" font-weight="normal" font-style="normal" fill="#111" stroke="#111" stroke-width="0.28">300</text>
<text x="127.5" y="299.7" font-size="6.6" text-anchor="middle" font-weight="normal" font-style="normal" fill="#111" stroke="#111" stroke-width="0.28">350</text>
<text x="164.2" y="299.7" font-size="6.6" text-anchor="middle" font-weight="normal" font-style="normal" fill="#111" stroke="#111" stroke-width="0.28">400</text>
<line x1="109.05" y1="292.2" x2="109.05" y2="290.6" stroke="#333" stroke-width="0.6"/>
<line x1="127.5" y1="292.2" x2="127.5" y2="290.6" stroke="#333" stroke-width="0.6"/>
<line x1="145.95" y1="292.2" x2="145.95" y2="290.6" stroke="#333" stroke-width="0.6"/>
<text x="133" y="304.4" font-size="6.9" text-anchor="start" font-weight="normal" font-style="normal" fill="#111" stroke="#111" stroke-width="0.28"><tspan font-style="italic">B</tspan> / mT</text>
<text x="94.8" y="249.2" font-size="6.4" text-anchor="start" font-weight="normal" font-style="normal" fill="#111" stroke="#111" stroke-width="0.28">exp.</text>
<text x="94.8" y="265.5" font-size="6.4" text-anchor="start" font-weight="normal" font-style="normal" fill="#ff2040" stroke="#ff2040" stroke-width="0.28">sim.</text>
<path d="M90.5 258.8 L110 258.8 L117 258.6 L119.5 258 L120.4 255 L120.9 240 L121.3 231.5 L121.7 240 L122 255 L122.3 275 L122.6 285.2 L123 275 L123.5 262 L124.5 259.4 L127 259 L140 258.8 L163.6 258.8" stroke="#666" stroke-width="0.9" fill="none"/>
<path d="M90.5 258.8 L110 258.8 L117 258.6 L119.5 258 L120.4 255 L120.9 240 L121.3 231.5 L121.7 240 L122 255 L122.3 275 L122.6 285.2 L123 275 L123.5 262 L124.5 259.4 L127 259 L140 258.8 L163.6 258.8" stroke="#ff1a2a" stroke-width="0.9" fill="none" stroke-dasharray="1.6 1.2"/>
<path d="M197.2 53.2 197.8 49.7 198.4 46.3 199.0 42.8 199.6 39.0 200.2 35.4 200.8 33.0 201.4 31.5 202.0 30.4 202.6 30.4 203.2 32.9 203.8 35.9 204.4 39.3 205.0 46.6 205.6 52.9 206.2 56.9 206.8 60.9 207.4 63.8 208.0 65.1 208.6 63.9 209.2 62.7 209.8 61.4 210.4 60.1 211.0 58.8 211.6 57.8 212.2 57.3 212.8 57.2 213.4 57.6 214.0 58.3 214.6 59.7 215.2 65.1 215.8 68.8 216.4 72.2 217.0 76.0 217.6 81.2 218.2 85.3 218.8 89.6 219.4 95.0 220.0 99.1 220.6 102.2 221.2 104.9 221.8 107.3 222.4 109.1 223.0 110.1 223.6 111.0 224.2 111.6 224.8 112.0 225.4 112.1 226.0 112.0 226.6 111.7 227.2 111.4 227.8 111.0 228.4 110.6 229.0 110.2 229.6 109.9 230.2 109.5 230.8 109.2 231.4 108.8 232.0 108.5 232.6 108.1 233.2 107.8 233.8 107.5 234.4 107.2 235.0 106.9 235.6 106.6 236.2 106.4 236.8 106.2 237.4 106.2 238.0 106.4 238.6 106.6 239.2 106.9 239.8 107.3 240.4 107.7 241.0 108.2 241.6 108.7 242.2 109.3 242.8 109.9 243.4 110.5 244.0 111.1 244.6 111.8 245.2 112.5 245.8 113.1 246.4 113.8 247.0 114.5 247.6 115.1 248.2 115.8 248.8 116.5 249.4 117.1 250.0 117.8 250.6 118.5 251.2 119.2 251.8 119.8 252.4 120.5 253.0 121.3 253.6 122.0 254.2 122.8 254.8 123.5 255.4 124.3 256.0 125.1 256.6 125.9 257.2 126.6 257.8 127.4 258.4 128.1 259.0 128.8 259.6 129.5 260.2 130.1 260.8 130.8 261.4 131.4 262.0 132.0 262.6 132.6 263.2 133.2 263.8 133.8 264.4 134.3 265.0 134.9 265.6 135.4 266.2 135.9 266.8 136.4 267.4 136.9 268.0 137.3 268.6 137.8 269.2 138.2 269.8 138.7 270.4 139.1 271.0 139.5 271.6 139.8 272.2 140.2 272.8 140.6 273.4 140.9 274.0 141.2 274.6 141.6 275.2 141.9 275.8 142.2 276.4 142.5 277.0 142.8 277.6 143.0 278.2 143.3 278.8 143.5 279.4 143.8 280.0 144.0 280.6 144.2 281.2 144.4 281.8 144.6 282.4 144.8 283.0 145.0 283.6 145.2 284.2 145.4 284.8 145.6 285.4 145.7 286.0 145.9 286.6 146.1 287.2 146.2 287.8 146.3 288.4 146.5 289.0 146.6 289.6 146.8 290.2 146.9 290.8 147.1 291.4 147.2 292.0 147.3 292.6 147.5 293.2 147.6 293.8 147.7 294.4 147.9 295.0 148.0 295.6 148.1 296.2 148.2 296.8 148.3 297.4 148.4 298.0 148.5 298.6 148.5 299.2 148.6 299.8 148.7 300.4 148.7 301.0 148.8 301.6 148.8 302.2 148.9 302.8 148.9 303.4 149.0 304.0 149.0 304.6 149.1 305.2 149.1 305.8 149.2 306.4 149.2 307.0 149.2 307.6 149.3 308.2 149.3 308.8 149.3 309.4 149.4 310.0 149.4 310.6 149.4 311.2 149.5 311.8 149.5 312.4 149.5 313.0 149.5 313.6 149.6 314.2 149.6 314.8 149.6 315.4 149.6 316.0 149.6 316.6 149.6 317.2 149.7 317.8 149.7 318.4 149.7 319.0 149.7 319.6 149.7 320.2 149.7 320.8 149.7 321.4 149.8 322.0 149.8 322.6 149.8 323.2 149.8 323.8 149.8 324.4 149.8 325.0 149.8 325.6 149.8 326.2 149.8 326.8 149.9 327.4 149.9 328.0 149.9 328.6 149.9 329.2 149.9 329.8 149.9 330.4 149.9 331.0 149.9 331.6 149.9 332.2 149.9 332.8 149.9 333.4 149.9 334.0 150.0 334.6 150.0 335.2 150.0 335.8 150.0 336.4 150.0 337.0 150.0 337.6 150.0 338.2 150.0 338.8 150.0 339.4 150.0 340.0 150.0 340.6 150.0 341.2 150.0 341.8 150.0 342.4 150.0 343.0 150.0 343.6 150.0 344.2 150.0 344.8 150.0 345.4 150.0 346.0 150.0 346.6 150.0 347.2 150.0 347.8 150.0 348.4 150.0 349.0 150.0 349.6 150.0 350.2 150.1 350.8 150.1 351.4 150.1 352.0 150.1 352.6 150.1 353.2 150.1 353.8 150.1 354.4 150.1 355.0 150.1 355.6 150.1 356.2 150.1 356.8 150.1 357.4 150.1 358.0 150.1 358.6 150.1 359.2 150.1 359.8 150.1 360.4 150.1 361.0 150.1 361.6 150.1 362.2 150.1 362.8 150.1 363.4 150.1 364.0 150.1 364.6 150.1 365.2 150.1 365.8 150.1 366.4 150.1 367.0 150.1 367.6 150.1 368.2 150.1 368.8 150.1 369.4 150.1 370.0 150.1" stroke="#222222" stroke-width="1" fill="none"/>
<path d="M197.2 51.7 197.8 48.0 198.4 44.2 199.0 40.2 199.6 35.7 200.2 31.6 200.8 28.8 201.4 27.0 202.0 26.0 202.6 26.5 203.2 29.0 203.8 32.3 204.4 36.3 205.0 42.8 205.6 49.2 206.2 54.6 206.8 58.1 207.4 60.5 208.0 61.7 208.6 61.4 209.2 61.1 209.8 60.7 210.4 60.4 211.0 60.0 211.6 59.7 212.2 59.8 212.8 60.1 213.4 60.8 214.0 61.6 214.6 63.1 215.2 67.0 215.8 69.8 216.4 72.5 217.0 75.8 217.6 80.5 218.2 84.3 218.8 88.2 219.4 92.8 220.0 96.4 220.6 99.2 221.2 101.6 221.8 103.7 222.4 105.4 223.0 106.4 223.6 107.0 224.2 107.5 224.8 107.7 225.4 107.7 226.0 107.6 226.6 107.3 227.2 107.0 227.8 106.7 228.4 106.3 229.0 106.0 229.6 105.7 230.2 105.3 230.8 105.0 231.4 104.7 232.0 104.4 232.6 104.2 233.2 104.1 233.8 104.1 234.4 104.1 235.0 104.2 235.6 104.5 236.2 104.8 236.8 105.2 237.4 105.5 238.0 105.8 238.6 106.3 239.2 106.7 239.8 107.1 240.4 107.5 241.0 108.0 241.6 108.5 242.2 109.0 242.8 109.6 243.4 110.1 244.0 110.6 244.6 111.1 245.2 111.7 245.8 112.3 246.4 112.8 247.0 113.5 247.6 114.1 248.2 114.8 248.8 115.5 249.4 116.1 250.0 116.7 250.6 117.2 251.2 117.8 251.8 118.4 252.4 119.0 253.0 119.6 253.6 120.3 254.2 121.0 254.8 121.7 255.4 122.4 256.0 123.1 256.6 123.9 257.2 124.6 257.8 125.3 258.4 126.0 259.0 126.6 259.6 127.2 260.2 127.8 260.8 128.4 261.4 129.0 262.0 129.6 262.6 130.2 263.2 130.7 263.8 131.3 264.4 131.8 265.0 132.3 265.6 132.8 266.2 133.3 266.8 133.8 267.4 134.3 268.0 134.7 268.6 135.2 269.2 135.7 269.8 136.1 270.4 136.5 271.0 136.9 271.6 137.3 272.2 137.7 272.8 138.1 273.4 138.4 274.0 138.8 274.6 139.1 275.2 139.5 275.8 139.8 276.4 140.1 277.0 140.4 277.6 140.7 278.2 141.0 278.8 141.3 279.4 141.5 280.0 141.8 280.6 142.0 281.2 142.3 281.8 142.5 282.4 142.7 283.0 142.9 283.6 143.1 284.2 143.4 284.8 143.5 285.4 143.7 286.0 143.9 286.6 144.1 287.2 144.3 287.8 144.4 288.4 144.6 289.0 144.8 289.6 144.9 290.2 145.1 290.8 145.2 291.4 145.4 292.0 145.5 292.6 145.7 293.2 145.8 293.8 146.0 294.4 146.1 295.0 146.2 295.6 146.4 296.2 146.5 296.8 146.6 297.4 146.7 298.0 146.8 298.6 146.9 299.2 147.0 299.8 147.1 300.4 147.2 301.0 147.2 301.6 147.3 302.2 147.4 302.8 147.4 303.4 147.5 304.0 147.6 304.6 147.6 305.2 147.7 305.8 147.8 306.4 147.8 307.0 147.9 307.6 147.9 308.2 148.0 308.8 148.1 309.4 148.1 310.0 148.2 310.6 148.2 311.2 148.2 311.8 148.3 312.4 148.3 313.0 148.4 313.6 148.4 314.2 148.4 314.8 148.5 315.4 148.5 316.0 148.5 316.6 148.6 317.2 148.6 317.8 148.6 318.4 148.6 319.0 148.7 319.6 148.7 320.2 148.7 320.8 148.7 321.4 148.8 322.0 148.8 322.6 148.8 323.2 148.8 323.8 148.9 324.4 148.9 325.0 148.9 325.6 148.9 326.2 149.0 326.8 149.0 327.4 149.0 328.0 149.0 328.6 149.0 329.2 149.1 329.8 149.1 330.4 149.1 331.0 149.1 331.6 149.1 332.2 149.1 332.8 149.2 333.4 149.2 334.0 149.2 334.6 149.2 335.2 149.2 335.8 149.2 336.4 149.2 337.0 149.3 337.6 149.3 338.2 149.3 338.8 149.3 339.4 149.3 340.0 149.3 340.6 149.3 341.2 149.3 341.8 149.4 342.4 149.4 343.0 149.4 343.6 149.4 344.2 149.4 344.8 149.4 345.4 149.4 346.0 149.4 346.6 149.4 347.2 149.4 347.8 149.5 348.4 149.5 349.0 149.5 349.6 149.5 350.2 149.5 350.8 149.5 351.4 149.5 352.0 149.5 352.6 149.5 353.2 149.5 353.8 149.5 354.4 149.6 355.0 149.6 355.6 149.6 356.2 149.6 356.8 149.6 357.4 149.6 358.0 149.6 358.6 149.6 359.2 149.6 359.8 149.6 360.4 149.6 361.0 149.6 361.6 149.6 362.2 149.6 362.8 149.7 363.4 149.7 364.0 149.7 364.6 149.7 365.2 149.7 365.8 149.7 366.4 149.7 367.0 149.7 367.6 149.7 368.2 149.7 368.8 149.7 369.4 149.7 370.0 149.7" stroke="#2a48f0" stroke-width="1" fill="none"/>
<path d="M197.2 50.2 197.8 46.2 198.4 42.1 199.0 37.7 199.6 32.5 200.2 27.7 200.8 24.7 201.4 22.4 202.0 21.6 202.6 22.6 203.2 25.0 203.8 28.6 204.4 33.3 205.0 39.0 205.6 45.5 206.2 52.3 206.8 55.3 207.4 57.2 208.0 58.3 208.6 58.9 209.2 59.6 209.8 60.1 210.4 60.6 211.0 61.1 211.6 61.7 212.2 62.3 212.8 63.0 213.4 63.9 214.0 65.0 214.6 66.5 215.2 68.8 215.8 70.8 216.4 72.9 217.0 75.6 217.6 79.8 218.2 83.3 218.8 86.8 219.4 90.6 220.0 93.7 220.6 96.2 221.2 98.3 221.8 100.1 222.4 101.7 223.0 102.7 223.6 103.1 224.2 103.3 224.8 103.4 225.4 103.3 226.0 103.2 226.6 103.0 227.2 102.7 227.8 102.4 228.4 102.1 229.0 101.7 229.6 101.4 230.2 101.1 230.8 100.9 231.4 100.6 232.0 100.3 232.6 100.2 233.2 100.3 233.8 100.6 234.4 101.0 235.0 101.6 235.6 102.4 236.2 103.3 236.8 104.1 237.4 104.7 238.0 105.3 238.6 105.9 239.2 106.4 239.8 106.9 240.4 107.4 241.0 107.9 241.6 108.3 242.2 108.8 242.8 109.2 243.4 109.7 244.0 110.1 244.6 110.5 245.2 110.9 245.8 111.4 246.4 111.9 247.0 112.5 247.6 113.1 248.2 113.8 248.8 114.4 249.4 115.0 250.0 115.5 250.6 116.0 251.2 116.4 251.8 116.9 252.4 117.4 253.0 118.0 253.6 118.6 254.2 119.2 254.8 119.8 255.4 120.5 256.0 121.2 256.6 121.9 257.2 122.5 257.8 123.2 258.4 123.8 259.0 124.4 259.6 125.0 260.2 125.5 260.8 126.1 261.4 126.6 262.0 127.2 262.6 127.7 263.2 128.2 263.8 128.7 264.4 129.3 265.0 129.8 265.6 130.2 266.2 130.7 266.8 131.2 267.4 131.7 268.0 132.2 268.6 132.6 269.2 133.1 269.8 133.5 270.4 134.0 271.0 134.4 271.6 134.8 272.2 135.2 272.8 135.6 273.4 135.9 274.0 136.3 274.6 136.7 275.2 137.0 275.8 137.4 276.4 137.7 277.0 138.1 277.6 138.4 278.2 138.7 278.8 139.0 279.4 139.3 280.0 139.6 280.6 139.8 281.2 140.1 281.8 140.3 282.4 140.6 283.0 140.8 283.6 141.1 284.2 141.3 284.8 141.5 285.4 141.7 286.0 141.9 286.6 142.1 287.2 142.3 287.8 142.5 288.4 142.7 289.0 142.9 289.6 143.1 290.2 143.2 290.8 143.4 291.4 143.6 292.0 143.7 292.6 143.9 293.2 144.0 293.8 144.2 294.4 144.3 295.0 144.5 295.6 144.6 296.2 144.8 296.8 144.9 297.4 145.0 298.0 145.1 298.6 145.3 299.2 145.4 299.8 145.5 300.4 145.6 301.0 145.7 301.6 145.8 302.2 145.9 302.8 145.9 303.4 146.0 304.0 146.1 304.6 146.2 305.2 146.3 305.8 146.4 306.4 146.5 307.0 146.5 307.6 146.6 308.2 146.7 308.8 146.8 309.4 146.8 310.0 146.9 310.6 147.0 311.2 147.0 311.8 147.1 312.4 147.1 313.0 147.2 313.6 147.2 314.2 147.3 314.8 147.3 315.4 147.4 316.0 147.4 316.6 147.5 317.2 147.5 317.8 147.6 318.4 147.6 319.0 147.6 319.6 147.7 320.2 147.7 320.8 147.8 321.4 147.8 322.0 147.8 322.6 147.9 323.2 147.9 323.8 147.9 324.4 148.0 325.0 148.0 325.6 148.0 326.2 148.1 326.8 148.1 327.4 148.1 328.0 148.2 328.6 148.2 329.2 148.2 329.8 148.2 330.4 148.3 331.0 148.3 331.6 148.3 332.2 148.4 332.8 148.4 333.4 148.4 334.0 148.4 334.6 148.5 335.2 148.5 335.8 148.5 336.4 148.5 337.0 148.5 337.6 148.6 338.2 148.6 338.8 148.6 339.4 148.6 340.0 148.6 340.6 148.7 341.2 148.7 341.8 148.7 342.4 148.7 343.0 148.7 343.6 148.8 344.2 148.8 344.8 148.8 345.4 148.8 346.0 148.8 346.6 148.8 347.2 148.9 347.8 148.9 348.4 148.9 349.0 148.9 349.6 148.9 350.2 148.9 350.8 149.0 351.4 149.0 352.0 149.0 352.6 149.0 353.2 149.0 353.8 149.0 354.4 149.0 355.0 149.1 355.6 149.1 356.2 149.1 356.8 149.1 357.4 149.1 358.0 149.1 358.6 149.1 359.2 149.2 359.8 149.2 360.4 149.2 361.0 149.2 361.6 149.2 362.2 149.2 362.8 149.2 363.4 149.2 364.0 149.2 364.6 149.2 365.2 149.3 365.8 149.3 366.4 149.3 367.0 149.3 367.6 149.3 368.2 149.3 368.8 149.3 369.4 149.3 370.0 149.3" stroke="#10c010" stroke-width="1" fill="none"/>
<path d="M197.2 49.5 197.8 45.4 198.4 41.0 199.0 36.4 199.6 30.8 200.2 25.8 200.8 22.6 201.4 20.1 202.0 19.3 202.6 20.6 203.2 23.1 203.8 26.8 204.4 31.8 205.0 37.1 205.6 43.6 206.2 51.1 206.8 54.0 207.4 55.5 208.0 56.6 208.6 57.7 209.2 58.8 209.8 59.8 210.4 60.7 211.0 61.7 211.6 62.6 212.2 63.5 212.8 64.5 213.4 65.5 214.0 66.7 214.6 68.2 215.2 69.7 215.8 71.3 216.4 73.0 217.0 75.5 217.6 79.4 218.2 82.8 218.8 86.1 219.4 89.5 220.0 92.4 220.6 94.7 221.2 96.6 221.8 98.3 222.4 99.9 223.0 100.9 223.6 101.1 224.2 101.3 224.8 101.3 225.4 101.2 226.0 101.0 226.6 100.8 227.2 100.5 227.8 100.3 228.4 99.9 229.0 99.6 229.6 99.3 230.2 99.0 230.8 98.8 231.4 98.5 232.0 98.3 232.6 98.2 233.2 98.4 233.8 98.9 234.4 99.5 235.0 100.2 235.6 101.3 236.2 102.5 236.8 103.6 237.4 104.4 238.0 105.1 238.6 105.7 239.2 106.3 239.8 106.8 240.4 107.3 241.0 107.8 241.6 108.2 242.2 108.7 242.8 109.1 243.4 109.4 244.0 109.8 244.6 110.1 245.2 110.5 245.8 110.9 246.4 111.4 247.0 112.0 247.6 112.6 248.2 113.3 248.8 113.9 249.4 114.4 250.0 114.9 250.6 115.3 251.2 115.8 251.8 116.2 252.4 116.7 253.0 117.2 253.6 117.7 254.2 118.3 254.8 118.9 255.4 119.6 256.0 120.2 256.6 120.8 257.2 121.5 257.8 122.1 258.4 122.7 259.0 123.3 259.6 123.9 260.2 124.4 260.8 124.9 261.4 125.5 262.0 126.0 262.6 126.5 263.2 127.0 263.8 127.5 264.4 128.0 265.0 128.5 265.6 129.0 266.2 129.4 266.8 129.9 267.4 130.4 268.0 130.9 268.6 131.3 269.2 131.8 269.8 132.3 270.4 132.7 271.0 133.1 271.6 133.5 272.2 133.9 272.8 134.3 273.4 134.7 274.0 135.1 274.6 135.5 275.2 135.8 275.8 136.2 276.4 136.5 277.0 136.9 277.6 137.2 278.2 137.5 278.8 137.9 279.4 138.2 280.0 138.4 280.6 138.7 281.2 139.0 281.8 139.3 282.4 139.5 283.0 139.8 283.6 140.0 284.2 140.3 284.8 140.5 285.4 140.7 286.0 141.0 286.6 141.2 287.2 141.4 287.8 141.6 288.4 141.8 289.0 141.9 289.6 142.1 290.2 142.3 290.8 142.5 291.4 142.7 292.0 142.8 292.6 143.0 293.2 143.2 293.8 143.3 294.4 143.5 295.0 143.6 295.6 143.8 296.2 143.9 296.8 144.0 297.4 144.2 298.0 144.3 298.6 144.4 299.2 144.5 299.8 144.7 300.4 144.8 301.0 144.9 301.6 145.0 302.2 145.1 302.8 145.2 303.4 145.3 304.0 145.4 304.6 145.5 305.2 145.6 305.8 145.7 306.4 145.8 307.0 145.9 307.6 145.9 308.2 146.0 308.8 146.1 309.4 146.2 310.0 146.3 310.6 146.3 311.2 146.4 311.8 146.5 312.4 146.5 313.0 146.6 313.6 146.7 314.2 146.7 314.8 146.8 315.4 146.8 316.0 146.9 316.6 146.9 317.2 147.0 317.8 147.0 318.4 147.1 319.0 147.1 319.6 147.2 320.2 147.2 320.8 147.3 321.4 147.3 322.0 147.3 322.6 147.4 323.2 147.4 323.8 147.5 324.4 147.5 325.0 147.6 325.6 147.6 326.2 147.6 326.8 147.7 327.4 147.7 328.0 147.7 328.6 147.8 329.2 147.8 329.8 147.8 330.4 147.9 331.0 147.9 331.6 147.9 332.2 148.0 332.8 148.0 333.4 148.0 334.0 148.0 334.6 148.1 335.2 148.1 335.8 148.1 336.4 148.2 337.0 148.2 337.6 148.2 338.2 148.2 338.8 148.3 339.4 148.3 340.0 148.3 340.6 148.3 341.2 148.3 341.8 148.4 342.4 148.4 343.0 148.4 343.6 148.4 344.2 148.5 344.8 148.5 345.4 148.5 346.0 148.5 346.6 148.5 347.2 148.6 347.8 148.6 348.4 148.6 349.0 148.6 349.6 148.6 350.2 148.7 350.8 148.7 351.4 148.7 352.0 148.7 352.6 148.7 353.2 148.8 353.8 148.8 354.4 148.8 355.0 148.8 355.6 148.8 356.2 148.8 356.8 148.9 357.4 148.9 358.0 148.9 358.6 148.9 359.2 148.9 359.8 148.9 360.4 148.9 361.0 149.0 361.6 149.0 362.2 149.0 362.8 149.0 363.4 149.0 364.0 149.0 364.6 149.0 365.2 149.0 365.8 149.0 366.4 149.1 367.0 149.1 367.6 149.1 368.2 149.1 368.8 149.1 369.4 149.1 370.0 149.1" stroke="#ff1414" stroke-width="1" fill="none"/>
<path d="M281.2 19.5 281.7 23.5 282.2 27.4 282.7 31.2 283.2 35.0 283.7 38.8 284.2 42.5 284.7 46.1 285.2 49.6 285.7 53.0 286.2 56.3 286.7 59.5 287.2 62.5 287.7 65.0 288.2 67.3 288.7 69.4 289.2 71.2 289.7 72.7 290.2 74.2 290.7 75.5 291.2 76.6 291.7 77.4 292.2 78.0 292.7 78.5 293.2 78.9 293.7 79.3 294.2 79.6 294.7 79.8 295.2 79.9 295.7 79.9 296.2 79.8 296.7 79.7 297.2 79.6 297.7 79.5 298.2 79.3 298.7 79.1 299.2 78.9 299.7 78.6 300.2 78.3 300.7 77.9 301.2 77.4 301.7 76.9 302.2 76.3 302.7 75.8 303.2 75.2 303.7 74.6 304.2 73.9 304.7 73.2 305.2 72.4 305.7 71.6 306.2 70.8 306.7 70.0 307.2 69.2 307.7 68.4 308.2 67.6 308.7 66.8 309.2 66.0 309.7 65.3 310.2 64.6 310.7 64.0 311.2 63.5 311.7 63.0 312.2 62.5 312.7 62.1 313.2 61.7 313.7 61.4 314.2 61.2 314.7 61.0 315.2 60.9 315.7 60.7 316.2 60.6 316.7 60.4 317.2 60.4 317.7 60.3 318.2 60.3 318.7 60.3 319.2 60.3 319.7 60.3 320.2 60.3 320.7 60.3 321.2 60.3 321.7 60.3 322.2 60.3 322.7 60.4 323.2 60.4 323.7 60.5 324.2 60.6 324.7 60.7 325.2 60.8 325.7 61.0 326.2 61.2 326.7 61.5 327.2 61.9 327.7 62.2 328.2 62.6 328.7 62.9 329.2 63.3 329.7 63.8 330.2 64.2 330.7 64.7 331.2 65.2 331.7 65.7 332.2 66.2 332.7 66.7 333.2 67.3 333.7 67.8 334.2 68.4 334.7 69.0 335.2 69.6 335.7 70.1 336.2 70.7 336.7 71.3 337.2 71.9 337.7 72.5 338.2 73.1 338.7 73.8 339.2 74.4 339.7 75.1 340.2 75.9 340.7 76.7 341.2 77.5 341.7 78.3 342.2 79.2 342.7 80.0 343.2 80.8 343.7 81.6 344.2 82.5 344.7 83.3 345.2 84.1 345.7 85.0 346.2 85.9 346.7 86.8 347.2 87.8 347.7 88.9 348.2 90.0 348.7 91.1" stroke="#222222" stroke-width="1" fill="none"/>
<path d="M282.4 19.2 282.9 22.4 283.4 25.5 283.9 28.5 284.4 31.4 284.9 34.3 285.4 37.2 285.9 39.9 286.4 42.5 286.9 44.8 287.4 46.9 287.9 48.9 288.4 50.8 288.9 52.6 289.4 54.4 289.9 56.2 290.4 57.7 290.9 59.1 291.4 60.4 291.9 61.6 292.4 62.6 292.9 63.4 293.4 63.9 293.9 64.4 294.4 64.8 294.9 65.0 295.4 65.1 295.9 65.1 296.4 65.1 296.9 65.0 297.4 64.9 297.9 64.9 298.4 64.8 298.9 64.6 299.4 64.5 299.9 64.4 300.4 64.2 300.9 64.0 301.4 63.9 301.9 63.5 302.4 63.1 302.9 62.5 303.4 61.8 303.9 61.1 304.4 60.3 304.9 59.6 305.4 58.9 305.9 58.2 306.4 57.4 306.9 56.6 307.4 55.8 307.9 55.0 308.4 54.3 308.9 53.6 309.4 53.0 309.9 52.3 310.4 51.6 310.9 51.0 311.4 50.5 311.9 50.3 312.4 50.3 312.9 50.3 313.4 50.3 313.9 50.4 314.4 50.4 314.9 50.5 315.4 50.6 315.9 51.0 316.4 51.4 316.9 52.0 317.4 52.6 317.9 53.1 318.4 53.6 318.9 54.1 319.4 54.7 319.9 55.3 320.4 55.8 320.9 56.4 321.4 56.9 321.9 57.4 322.4 57.9 322.9 58.3 323.4 58.8 323.9 59.2 324.4 59.7 324.9 60.1 325.4 60.6 325.9 61.0 326.4 61.4 326.9 61.9 327.4 62.3 327.9 62.7 328.4 63.1 328.9 63.6 329.4 64.0 329.9 64.4 330.4 64.8 330.9 65.3 331.4 65.7 331.9 66.1 332.4 66.6 332.9 67.0 333.4 67.5 333.9 67.9 334.4 68.4 334.9 68.9 335.4 69.4 335.9 69.9 336.4 70.5 336.9 71.0 337.4 71.6 337.9 72.2 338.4 72.7 338.9 73.3 339.4 73.9 339.9 74.5 340.4 75.0 340.9 75.6 341.4 76.2 341.9 76.8 342.4 77.4 342.9 78.0 343.4 78.6 343.9 79.2 344.4 79.7 344.9 80.3 345.4 80.8 345.9 81.3 346.4 81.8 346.9 82.3 347.4 82.8 347.9 83.4 348.4 83.9 348.9 84.5 349.4 85.1 349.9 85.7 350.4 86.3 350.9 86.9 351.4 87.5 351.9 88.1 352.4 88.8 352.9 89.5 353.4 90.2 353.9 90.9 354.4 91.7" stroke="#2a48f0" stroke-width="1" fill="none"/>
<path d="M283.4 18.6 283.9 21.5 284.4 24.3 284.9 27.0 285.4 29.5 285.9 32.0 286.4 34.4 286.9 36.7 287.4 38.9 287.9 40.7 288.4 42.2 288.9 43.5 289.4 44.8 289.9 45.9 290.4 46.9 290.9 47.8 291.4 48.4 291.9 48.9 292.4 49.3 292.9 49.7 293.4 50.1 293.9 50.4 294.4 50.6 294.9 50.8 295.4 50.8 295.9 50.8 296.4 50.8 296.9 50.8 297.4 50.7 297.9 50.7 298.4 50.7 298.9 50.6 299.4 50.6 299.9 50.5 300.4 50.4 300.9 50.4 301.4 50.3 301.9 50.1 302.4 49.6 302.9 49.1 303.4 48.5 303.9 47.9 304.4 47.2 304.9 46.6 305.4 46.1 305.9 45.5 306.4 44.9 306.9 44.3 307.4 43.7 307.9 43.1 308.4 42.6 308.9 42.1 309.4 41.6 309.9 41.1 310.4 40.6 310.9 40.2 311.4 39.7 311.9 39.4 312.4 39.1 312.9 38.9 313.4 38.9 313.9 39.0 314.4 39.1 314.9 39.3 315.4 39.7 315.9 40.4 316.4 41.5 316.9 42.6 317.4 43.7 317.9 44.9 318.4 46.2 318.9 47.5 319.4 48.8 319.9 50.0 320.4 51.3 320.9 52.7 321.4 54.0 321.9 55.2 322.4 56.2 322.9 57.1 323.4 57.9 323.9 58.6 324.4 59.2 324.9 59.8 325.4 60.4 325.9 60.9 326.4 61.4 326.9 61.9 327.4 62.3 327.9 62.7 328.4 63.1 328.9 63.6 329.4 64.0 329.9 64.4 330.4 64.9 330.9 65.3 331.4 65.7 331.9 66.2 332.4 66.6 332.9 67.1 333.4 67.5 333.9 68.0 334.4 68.4 334.9 68.9 335.4 69.4 335.9 69.9 336.4 70.3 336.9 70.8 337.4 71.4 337.9 71.9 338.4 72.4 338.9 72.9 339.4 73.4 339.9 73.9 340.4 74.4 340.9 75.0 341.4 75.5 341.9 76.1 342.4 76.6 342.9 77.2 343.4 77.7 343.9 78.2 344.4 78.7 344.9 79.2 345.4 79.6 345.9 80.1 346.4 80.5 346.9 81.0 347.4 81.4 347.9 81.9 348.4 82.4 348.9 82.9 349.4 83.4 349.9 83.9 350.4 84.4 350.9 85.0 351.4 85.5 351.9 86.0 352.4 86.6 352.9 87.2 353.4 87.7 353.9 88.4 354.4 89.0 354.9 89.8 355.4 90.5 355.9 91.3" stroke="#10c010" stroke-width="1" fill="none"/>
<path d="M284.5 18.6 285.0 21.1 285.5 23.5 286.0 25.8 286.5 28.0 287.0 30.2 287.5 32.4 288.0 34.5 288.5 36.4 289.0 38.1 289.5 39.4 290.0 40.5 290.5 41.5 291.0 42.4 291.5 43.0 292.0 43.5 292.5 44.0 293.0 44.4 293.5 44.7 294.0 44.8 294.5 44.8 295.0 44.8 295.5 44.8 296.0 44.8 296.5 44.8 297.0 44.8 297.5 44.8 298.0 44.8 298.5 44.8 299.0 44.8 299.5 44.7 300.0 44.4 300.5 44.0 301.0 43.5 301.5 43.0 302.0 42.5 302.5 42.0 303.0 41.6 303.5 41.2 304.0 40.8 304.5 40.3 305.0 39.9 305.5 39.4 306.0 38.9 306.5 38.3 307.0 37.7 307.5 37.0 308.0 36.3 308.5 35.6 309.0 35.0 309.5 34.4 310.0 33.8 310.5 33.2 311.0 32.7 311.5 32.3 312.0 32.2 312.5 32.2 313.0 32.3 313.5 32.4 314.0 32.6 314.5 33.1 315.0 34.0 315.5 35.1 316.0 36.2 316.5 37.5 317.0 39.0 317.5 40.5 318.0 42.1 318.5 43.8 319.0 45.4 319.5 46.8 320.0 48.2 320.5 49.5 321.0 50.7 321.5 51.9 322.0 53.0 322.5 54.1 323.0 55.2 323.5 56.3 324.0 57.3 324.5 58.2 325.0 59.1 325.5 59.8 326.0 60.4 326.5 61.0 327.0 61.6 327.5 62.1 328.0 62.6 328.5 63.1 329.0 63.5 329.5 64.0 330.0 64.5 330.5 65.0 331.0 65.4 331.5 65.9 332.0 66.3 332.5 66.7 333.0 67.2 333.5 67.6 334.0 68.1 334.5 68.5 335.0 69.0 335.5 69.5 336.0 70.0 336.5 70.5 337.0 71.0 337.5 71.5 338.0 72.0 338.5 72.5 339.0 73.0 339.5 73.5 340.0 74.0 340.5 74.5 341.0 75.0 341.5 75.5 342.0 76.0 342.5 76.6 343.0 77.0 343.5 77.5 344.0 78.0 344.5 78.5 345.0 78.9 345.5 79.4 346.0 79.8 346.5 80.2 347.0 80.7 347.5 81.1 348.0 81.5 348.5 81.9 349.0 82.3 349.5 82.7 350.0 83.0 350.5 83.4 351.0 83.8 351.5 84.3 352.0 84.8 352.5 85.3 353.0 85.8 353.5 86.3 354.0 86.9 354.5 87.5 355.0 88.2 355.5 88.9 356.0 89.6 356.5 90.4 357.0 91.3" stroke="#ff1414" stroke-width="1" fill="none"/>
<path d="M197.2 229.5 197.8 225.0 198.4 220.7 199.0 216.3 199.6 212.1 200.2 209.2 200.8 207.2 201.4 207.3 202.0 208.5 202.6 210.8 203.2 215.5 203.8 220.3 204.4 224.0 205.0 227.4 205.6 230.5 206.2 233.5 206.8 236.0 207.4 237.3 208.0 238.0 208.6 237.5 209.2 236.5 209.8 235.4 210.4 234.0 211.0 233.0 211.6 232.7 212.2 233.1 212.8 234.5 213.4 236.2 214.0 238.7 214.6 241.5 215.2 244.6 215.8 248.0 216.4 251.0 217.0 253.9 217.6 256.4 218.2 258.4 218.8 261.0 219.4 264.8 220.0 270.1 220.6 273.4 221.2 275.9 221.8 277.6 222.4 278.8 223.0 279.5 223.6 280.1 224.2 280.5 224.8 280.5 225.4 280.5 226.0 280.4 226.6 280.4 227.2 280.2 227.8 280.0 228.4 279.7 229.0 279.4 229.6 279.0 230.2 278.6 230.8 278.2 231.4 277.9 232.0 277.6 232.6 277.2 233.2 276.9 233.8 276.6 234.4 276.3 235.0 276.2 235.6 276.1 236.2 276.1 236.8 276.2 237.4 276.4 238.0 276.6 238.6 276.8 239.2 277.0 239.8 277.3 240.4 277.8 241.0 278.3 241.6 278.9 242.2 279.5 242.8 280.0 243.4 280.6 244.0 281.1 244.6 281.6 245.2 282.2 245.8 282.7 246.4 283.3 247.0 283.8 247.6 284.4 248.2 285.0 248.8 285.6 249.4 286.3 250.0 287.0 250.6 287.8 251.2 288.6 251.8 289.4 252.4 290.2 253.0 291.0 253.6 291.7 254.2 292.5 254.8 293.2 255.4 293.8 256.0 294.5 256.6 295.1 257.2 295.7 257.8 296.3 258.4 296.9 259.0 297.5 259.6 298.1 260.2 298.6 260.8 299.2 261.4 299.7 262.0 300.2 262.6 300.7 263.2 301.2 263.8 301.7 264.4 302.1 265.0 302.6 265.6 303.0 266.2 303.4 266.8 303.9 267.4 304.3 268.0 304.7 268.6 305.1 269.2 305.5 269.8 305.9 270.4 306.3 271.0 306.7 271.6 307.1 272.2 307.4 272.8 307.8 273.4 308.1 274.0 308.4 274.6 308.8 275.2 309.0 275.8 309.3 276.4 309.6 277.0 309.9 277.6 310.1 278.2 310.4 278.8 310.6 279.4 310.9 280.0 311.1 280.6 311.3 281.2 311.5 281.8 311.6 282.4 311.8 283.0 312.0 283.6 312.2 284.2 312.3 284.8 312.5 285.4 312.6 286.0 312.8 286.6 312.9 287.2 313.0 287.8 313.1 288.4 313.2 289.0 313.3 289.6 313.4 290.2 313.5 290.8 313.5 291.4 313.6 292.0 313.7 292.6 313.7 293.2 313.8 293.8 313.9 294.4 313.9 295.0 313.9 295.6 314.0 296.2 314.0 296.8 314.0 297.4 314.1 298.0 314.1 298.6 314.1 299.2 314.1 299.8 314.1 300.4 314.2 301.0 314.2 301.6 314.2 302.2 314.2 302.8 314.2 303.4 314.2 304.0 314.3 304.6 314.3 305.2 314.3 305.8 314.3 306.4 314.3 307.0 314.3 307.6 314.3 308.2 314.4 308.8 314.4 309.4 314.4 310.0 314.4 310.6 314.4 311.2 314.4 311.8 314.4 312.4 314.4 313.0 314.4 313.6 314.4 314.2 314.4 314.8 314.5 315.4 314.5 316.0 314.5 316.6 314.5 317.2 314.5 317.8 314.5 318.4 314.5 319.0 314.5 319.6 314.5 320.2 314.5 320.8 314.5 321.4 314.5 322.0 314.5 322.6 314.5 323.2 314.5 323.8 314.5 324.4 314.5 325.0 314.5 325.6 314.5 326.2 314.5 326.8 314.5 327.4 314.6 328.0 314.6 328.6 314.6 329.2 314.6 329.8 314.6 330.4 314.6 331.0 314.6 331.6 314.6 332.2 314.6 332.8 314.6 333.4 314.6 334.0 314.6 334.6 314.6 335.2 314.6 335.8 314.6 336.4 314.6 337.0 314.6 337.6 314.6 338.2 314.6 338.8 314.6 339.4 314.6 340.0 314.6 340.6 314.6 341.2 314.6 341.8 314.6 342.4 314.6 343.0 314.6 343.6 314.6 344.2 314.6 344.8 314.6 345.4 314.6 346.0 314.6 346.6 314.7 347.2 314.7 347.8 314.7 348.4 314.7 349.0 314.7 349.6 314.7 350.2 314.7 350.8 314.7 351.4 314.7 352.0 314.7 352.6 314.7 353.2 314.7 353.8 314.7 354.4 314.7 355.0 314.7 355.6 314.7 356.2 314.7 356.8 314.7 357.4 314.7 358.0 314.7 358.6 314.7 359.2 314.7 359.8 314.7 360.4 314.7 361.0 314.7 361.6 314.7 362.2 314.7 362.8 314.7 363.4 314.7 364.0 314.7 364.6 314.7 365.2 314.7 365.8 314.7 366.4 314.7 367.0 314.7 367.6 314.7 368.2 314.7 368.8 314.7 369.4 314.7 370.0 314.7" stroke="#eeee00" stroke-width="1.05" fill="none"/>
<path d="M197.2 225.9 197.8 221.5 198.4 217.3 199.0 213.0 199.6 208.9 200.2 206.1 200.8 204.1 201.4 204.1 202.0 205.2 202.6 207.6 203.2 212.1 203.8 216.9 204.4 220.3 205.0 223.4 205.6 226.2 206.2 229.0 206.8 231.3 207.4 232.8 208.0 233.9 208.6 234.0 209.2 233.6 209.8 233.1 210.4 232.2 211.0 231.8 211.6 231.9 212.2 232.6 212.8 234.3 213.4 236.2 214.0 238.8 214.6 241.7 215.2 244.9 215.8 248.2 216.4 251.1 217.0 253.9 217.6 256.3 218.2 258.2 218.8 260.5 219.4 263.9 220.0 268.5 220.6 271.4 221.2 273.5 221.8 274.9 222.4 275.9 223.0 276.5 223.6 276.9 224.2 277.1 224.8 277.0 225.4 276.9 226.0 276.7 226.6 276.5 227.2 276.3 227.8 275.9 228.4 275.6 229.0 275.2 229.6 274.8 230.2 274.4 230.8 274.0 231.4 273.6 232.0 273.3 232.6 273.1 233.2 272.9 233.8 272.8 234.4 273.0 235.0 273.4 235.6 274.1 236.2 274.9 236.8 275.4 237.4 275.8 238.0 276.1 238.6 276.5 239.2 276.8 239.8 277.2 240.4 277.7 241.0 278.3 241.6 279.0 242.2 279.5 242.8 280.1 243.4 280.6 244.0 281.1 244.6 281.6 245.2 282.2 245.8 282.7 246.4 283.2 247.0 283.7 247.6 284.2 248.2 284.8 248.8 285.4 249.4 286.0 250.0 286.7 250.6 287.4 251.2 288.1 251.8 288.9 252.4 289.6 253.0 290.4 253.6 291.1 254.2 291.8 254.8 292.5 255.4 293.1 256.0 293.7 256.6 294.3 257.2 294.9 257.8 295.5 258.4 296.0 259.0 296.6 259.6 297.1 260.2 297.7 260.8 298.2 261.4 298.7 262.0 299.2 262.6 299.6 263.2 300.1 263.8 300.6 264.4 301.0 265.0 301.5 265.6 301.9 266.2 302.3 266.8 302.8 267.4 303.2 268.0 303.6 268.6 304.0 269.2 304.4 269.8 304.8 270.4 305.2 271.0 305.6 271.6 305.9 272.2 306.3 272.8 306.6 273.4 307.0 274.0 307.3 274.6 307.6 275.2 307.9 275.8 308.2 276.4 308.5 277.0 308.8 277.6 309.1 278.2 309.4 278.8 309.6 279.4 309.9 280.0 310.1 280.6 310.3 281.2 310.5 281.8 310.7 282.4 310.9 283.0 311.1 283.6 311.2 284.2 311.4 284.8 311.6 285.4 311.7 286.0 311.9 286.6 312.0 287.2 312.1 287.8 312.2 288.4 312.3 289.0 312.4 289.6 312.5 290.2 312.6 290.8 312.7 291.4 312.8 292.0 312.9 292.6 313.0 293.2 313.0 293.8 313.1 294.4 313.2 295.0 313.2 295.6 313.3 296.2 313.3 296.8 313.3 297.4 313.4 298.0 313.4 298.6 313.4 299.2 313.5 299.8 313.5 300.4 313.5 301.0 313.5 301.6 313.6 302.2 313.6 302.8 313.6 303.4 313.7 304.0 313.7 304.6 313.7 305.2 313.7 305.8 313.7 306.4 313.8 307.0 313.8 307.6 313.8 308.2 313.8 308.8 313.8 309.4 313.9 310.0 313.9 310.6 313.9 311.2 313.9 311.8 313.9 312.4 313.9 313.0 314.0 313.6 314.0 314.2 314.0 314.8 314.0 315.4 314.0 316.0 314.0 316.6 314.0 317.2 314.0 317.8 314.0 318.4 314.1 319.0 314.1 319.6 314.1 320.2 314.1 320.8 314.1 321.4 314.1 322.0 314.1 322.6 314.1 323.2 314.1 323.8 314.1 324.4 314.1 325.0 314.1 325.6 314.2 326.2 314.2 326.8 314.2 327.4 314.2 328.0 314.2 328.6 314.2 329.2 314.2 329.8 314.2 330.4 314.2 331.0 314.2 331.6 314.2 332.2 314.2 332.8 314.2 333.4 314.2 334.0 314.2 334.6 314.3 335.2 314.3 335.8 314.3 336.4 314.3 337.0 314.3 337.6 314.3 338.2 314.3 338.8 314.3 339.4 314.3 340.0 314.3 340.6 314.3 341.2 314.3 341.8 314.3 342.4 314.3 343.0 314.3 343.6 314.3 344.2 314.3 344.8 314.3 345.4 314.3 346.0 314.3 346.6 314.3 347.2 314.4 347.8 314.4 348.4 314.4 349.0 314.4 349.6 314.4 350.2 314.4 350.8 314.4 351.4 314.4 352.0 314.4 352.6 314.4 353.2 314.4 353.8 314.4 354.4 314.4 355.0 314.4 355.6 314.4 356.2 314.4 356.8 314.4 357.4 314.4 358.0 314.4 358.6 314.4 359.2 314.4 359.8 314.4 360.4 314.4 361.0 314.4 361.6 314.4 362.2 314.4 362.8 314.4 363.4 314.4 364.0 314.4 364.6 314.4 365.2 314.4 365.8 314.4 366.4 314.4 367.0 314.4 367.6 314.4 368.2 314.4 368.8 314.5 369.4 314.5 370.0 314.5" stroke="#008a80" stroke-width="1.05" fill="none"/>
<path d="M197.2 223.7 197.8 219.3 198.4 215.2 199.0 211.0 199.6 206.9 200.2 204.2 200.8 202.2 201.4 202.1 202.0 203.2 202.6 205.6 203.2 210.1 203.8 214.7 204.4 218.0 205.0 221.0 205.6 223.6 206.2 226.2 206.8 228.4 207.4 230.1 208.0 231.4 208.6 231.8 209.2 231.8 209.8 231.7 210.4 231.2 211.0 231.1 211.6 231.5 212.2 232.4 212.8 234.1 213.4 236.2 214.0 238.9 214.6 241.9 215.2 245.1 215.8 248.3 216.4 251.2 217.0 253.9 217.6 256.3 218.2 258.1 218.8 260.2 219.4 263.3 220.0 267.6 220.6 270.2 221.2 272.1 221.8 273.3 222.4 274.1 223.0 274.6 223.6 274.9 224.2 275.1 224.8 274.9 225.4 274.7 226.0 274.4 226.6 274.2 227.2 273.8 227.8 273.5 228.4 273.1 229.0 272.6 229.6 272.2 230.2 271.7 230.8 271.3 231.4 270.9 232.0 270.7 232.6 270.5 233.2 270.4 233.8 270.5 234.4 271.0 235.0 271.7 235.6 272.9 236.2 274.2 236.8 274.8 237.4 275.4 238.0 275.9 238.6 276.3 239.2 276.7 239.8 277.2 240.4 277.7 241.0 278.3 241.6 279.0 242.2 279.6 242.8 280.1 243.4 280.6 244.0 281.1 244.6 281.6 245.2 282.1 245.8 282.6 246.4 283.1 247.0 283.6 247.6 284.2 248.2 284.7 248.8 285.3 249.4 285.9 250.0 286.5 250.6 287.2 251.2 287.9 251.8 288.6 252.4 289.3 253.0 290.0 253.6 290.7 254.2 291.4 254.8 292.0 255.4 292.6 256.0 293.2 256.6 293.8 257.2 294.4 257.8 294.9 258.4 295.5 259.0 296.0 259.6 296.5 260.2 297.0 260.8 297.5 261.4 298.0 262.0 298.5 262.6 299.0 263.2 299.5 263.8 299.9 264.4 300.4 265.0 300.8 265.6 301.2 266.2 301.6 266.8 302.1 267.4 302.5 268.0 302.9 268.6 303.3 269.2 303.7 269.8 304.1 270.4 304.5 271.0 304.8 271.6 305.2 272.2 305.6 272.8 305.9 273.4 306.3 274.0 306.6 274.6 306.9 275.2 307.2 275.8 307.5 276.4 307.9 277.0 308.2 277.6 308.4 278.2 308.7 278.8 309.0 279.4 309.2 280.0 309.5 280.6 309.7 281.2 309.9 281.8 310.1 282.4 310.3 283.0 310.5 283.6 310.7 284.2 310.8 284.8 311.0 285.4 311.2 286.0 311.3 286.6 311.4 287.2 311.6 287.8 311.7 288.4 311.8 289.0 311.9 289.6 312.0 290.2 312.1 290.8 312.2 291.4 312.3 292.0 312.4 292.6 312.5 293.2 312.6 293.8 312.6 294.4 312.7 295.0 312.8 295.6 312.8 296.2 312.9 296.8 312.9 297.4 312.9 298.0 313.0 298.6 313.0 299.2 313.1 299.8 313.1 300.4 313.1 301.0 313.2 301.6 313.2 302.2 313.2 302.8 313.3 303.4 313.3 304.0 313.3 304.6 313.4 305.2 313.4 305.8 313.4 306.4 313.4 307.0 313.5 307.6 313.5 308.2 313.5 308.8 313.5 309.4 313.5 310.0 313.6 310.6 313.6 311.2 313.6 311.8 313.6 312.4 313.6 313.0 313.7 313.6 313.7 314.2 313.7 314.8 313.7 315.4 313.7 316.0 313.7 316.6 313.8 317.2 313.8 317.8 313.8 318.4 313.8 319.0 313.8 319.6 313.8 320.2 313.8 320.8 313.8 321.4 313.8 322.0 313.9 322.6 313.9 323.2 313.9 323.8 313.9 324.4 313.9 325.0 313.9 325.6 313.9 326.2 313.9 326.8 313.9 327.4 313.9 328.0 314.0 328.6 314.0 329.2 314.0 329.8 314.0 330.4 314.0 331.0 314.0 331.6 314.0 332.2 314.0 332.8 314.0 333.4 314.0 334.0 314.0 334.6 314.0 335.2 314.1 335.8 314.1 336.4 314.1 337.0 314.1 337.6 314.1 338.2 314.1 338.8 314.1 339.4 314.1 340.0 314.1 340.6 314.1 341.2 314.1 341.8 314.1 342.4 314.1 343.0 314.1 343.6 314.1 344.2 314.1 344.8 314.1 345.4 314.2 346.0 314.2 346.6 314.2 347.2 314.2 347.8 314.2 348.4 314.2 349.0 314.2 349.6 314.2 350.2 314.2 350.8 314.2 351.4 314.2 352.0 314.2 352.6 314.2 353.2 314.2 353.8 314.2 354.4 314.2 355.0 314.2 355.6 314.2 356.2 314.2 356.8 314.2 357.4 314.2 358.0 314.2 358.6 314.2 359.2 314.3 359.8 314.3 360.4 314.3 361.0 314.3 361.6 314.3 362.2 314.3 362.8 314.3 363.4 314.3 364.0 314.3 364.6 314.3 365.2 314.3 365.8 314.3 366.4 314.3 367.0 314.3 367.6 314.3 368.2 314.3 368.8 314.3 369.4 314.3 370.0 314.3" stroke="#2030f0" stroke-width="1.05" fill="none"/>
<path d="M197.2 221.7 197.8 217.5 198.4 213.4 199.0 209.2 199.6 205.2 200.2 202.5 200.8 200.6 201.4 200.4 202.0 201.5 202.6 203.9 203.2 208.3 203.8 212.9 204.4 216.0 205.0 218.8 205.6 221.3 206.2 223.8 206.8 225.9 207.4 227.6 208.0 229.2 208.6 229.9 209.2 230.2 209.8 230.4 210.4 230.3 211.0 230.4 211.6 231.0 212.2 232.1 212.8 234.0 213.4 236.2 214.0 239.0 214.6 242.0 215.2 245.2 215.8 248.5 216.4 251.3 217.0 253.9 217.6 256.2 218.2 258.0 218.8 260.0 219.4 262.8 220.0 266.7 220.6 269.1 221.2 270.8 221.8 271.9 222.4 272.6 223.0 272.9 223.6 273.2 224.2 273.2 224.8 273.0 225.4 272.7 226.0 272.4 226.6 272.1 227.2 271.7 227.8 271.3 228.4 270.9 229.0 270.4 229.6 269.9 230.2 269.4 230.8 269.0 231.4 268.6 232.0 268.4 232.6 268.2 233.2 268.2 233.8 268.4 234.4 269.2 235.0 270.3 235.6 271.9 236.2 273.5 236.8 274.4 237.4 275.1 238.0 275.6 238.6 276.2 239.2 276.7 239.8 277.1 240.4 277.7 241.0 278.3 241.6 279.0 242.2 279.6 242.8 280.1 243.4 280.6 244.0 281.1 244.6 281.6 245.2 282.1 245.8 282.6 246.4 283.1 247.0 283.6 247.6 284.1 248.2 284.6 248.8 285.1 249.4 285.7 250.0 286.4 250.6 287.0 251.2 287.7 251.8 288.4 252.4 289.0 253.0 289.7 253.6 290.4 254.2 291.0 254.8 291.6 255.4 292.2 256.0 292.8 256.6 293.3 257.2 293.9 257.8 294.4 258.4 295.0 259.0 295.5 259.6 296.0 260.2 296.5 260.8 297.0 261.4 297.5 262.0 298.0 262.6 298.4 263.2 298.9 263.8 299.3 264.4 299.8 265.0 300.2 265.6 300.6 266.2 301.0 266.8 301.5 267.4 301.9 268.0 302.3 268.6 302.7 269.2 303.1 269.8 303.5 270.4 303.8 271.0 304.2 271.6 304.6 272.2 305.0 272.8 305.3 273.4 305.6 274.0 306.0 274.6 306.3 275.2 306.6 275.8 307.0 276.4 307.3 277.0 307.6 277.6 307.9 278.2 308.2 278.8 308.4 279.4 308.7 280.0 309.0 280.6 309.2 281.2 309.4 281.8 309.6 282.4 309.8 283.0 310.0 283.6 310.2 284.2 310.3 284.8 310.5 285.4 310.7 286.0 310.8 286.6 311.0 287.2 311.1 287.8 311.2 288.4 311.3 289.0 311.5 289.6 311.6 290.2 311.7 290.8 311.8 291.4 311.9 292.0 312.0 292.6 312.1 293.2 312.2 293.8 312.2 294.4 312.3 295.0 312.4 295.6 312.4 296.2 312.5 296.8 312.5 297.4 312.6 298.0 312.6 298.6 312.7 299.2 312.7 299.8 312.7 300.4 312.8 301.0 312.8 301.6 312.9 302.2 312.9 302.8 312.9 303.4 313.0 304.0 313.0 304.6 313.0 305.2 313.1 305.8 313.1 306.4 313.1 307.0 313.2 307.6 313.2 308.2 313.2 308.8 313.2 309.4 313.3 310.0 313.3 310.6 313.3 311.2 313.3 311.8 313.4 312.4 313.4 313.0 313.4 313.6 313.4 314.2 313.4 314.8 313.5 315.4 313.5 316.0 313.5 316.6 313.5 317.2 313.5 317.8 313.5 318.4 313.6 319.0 313.6 319.6 313.6 320.2 313.6 320.8 313.6 321.4 313.6 322.0 313.6 322.6 313.7 323.2 313.7 323.8 313.7 324.4 313.7 325.0 313.7 325.6 313.7 326.2 313.7 326.8 313.7 327.4 313.7 328.0 313.8 328.6 313.8 329.2 313.8 329.8 313.8 330.4 313.8 331.0 313.8 331.6 313.8 332.2 313.8 332.8 313.8 333.4 313.8 334.0 313.9 334.6 313.9 335.2 313.9 335.8 313.9 336.4 313.9 337.0 313.9 337.6 313.9 338.2 313.9 338.8 313.9 339.4 313.9 340.0 313.9 340.6 313.9 341.2 313.9 341.8 313.9 342.4 314.0 343.0 314.0 343.6 314.0 344.2 314.0 344.8 314.0 345.4 314.0 346.0 314.0 346.6 314.0 347.2 314.0 347.8 314.0 348.4 314.0 349.0 314.0 349.6 314.0 350.2 314.0 350.8 314.0 351.4 314.0 352.0 314.0 352.6 314.1 353.2 314.1 353.8 314.1 354.4 314.1 355.0 314.1 355.6 314.1 356.2 314.1 356.8 314.1 357.4 314.1 358.0 314.1 358.6 314.1 359.2 314.1 359.8 314.1 360.4 314.1 361.0 314.1 361.6 314.1 362.2 314.1 362.8 314.1 363.4 314.1 364.0 314.1 364.6 314.1 365.2 314.1 365.8 314.1 366.4 314.2 367.0 314.2 367.6 314.2 368.2 314.2 368.8 314.2 369.4 314.2 370.0 314.2" stroke="#00b030" stroke-width="1.05" fill="none"/>
<path d="M197.2 219.2 197.8 215.0 198.4 211.0 199.0 207.0 199.6 203.0 200.2 200.4 200.8 198.4 201.4 198.1 202.0 199.2 202.6 201.7 203.2 206.0 203.8 210.5 204.4 213.5 205.0 216.0 205.6 218.4 206.2 220.7 206.8 222.7 207.4 224.5 208.0 226.4 208.6 227.4 209.2 228.2 209.8 228.8 210.4 229.1 211.0 229.6 211.6 230.5 212.2 231.8 212.8 233.8 213.4 236.2 214.0 239.1 214.6 242.2 215.2 245.4 215.8 248.6 216.4 251.4 217.0 254.0 217.6 256.2 218.2 257.9 218.8 259.7 219.4 262.2 220.0 265.6 220.6 267.7 221.2 269.2 221.8 270.1 222.4 270.6 223.0 270.8 223.6 271.0 224.2 270.9 224.8 270.6 225.4 270.2 226.0 269.8 226.6 269.4 227.2 269.0 227.8 268.5 228.4 268.0 229.0 267.5 229.6 267.0 230.2 266.5 230.8 266.0 231.4 265.6 232.0 265.4 232.6 265.3 233.2 265.4 233.8 265.8 234.4 266.9 235.0 268.4 235.6 270.5 236.2 272.6 236.8 273.8 237.4 274.6 238.0 275.3 238.6 276.0 239.2 276.5 239.8 277.1 240.4 277.7 241.0 278.3 241.6 279.0 242.2 279.6 242.8 280.1 243.4 280.6 244.0 281.1 244.6 281.6 245.2 282.1 245.8 282.6 246.4 283.0 247.0 283.5 247.6 284.0 248.2 284.5 248.8 285.0 249.4 285.6 250.0 286.2 250.6 286.8 251.2 287.4 251.8 288.0 252.4 288.7 253.0 289.3 253.6 290.0 254.2 290.6 254.8 291.1 255.4 291.7 256.0 292.2 256.6 292.8 257.2 293.3 257.8 293.8 258.4 294.3 259.0 294.8 259.6 295.3 260.2 295.8 260.8 296.3 261.4 296.8 262.0 297.2 262.6 297.7 263.2 298.1 263.8 298.6 264.4 299.0 265.0 299.4 265.6 299.9 266.2 300.3 266.8 300.7 267.4 301.1 268.0 301.5 268.6 301.9 269.2 302.3 269.8 302.7 270.4 303.0 271.0 303.4 271.6 303.8 272.2 304.1 272.8 304.5 273.4 304.9 274.0 305.2 274.6 305.5 275.2 305.9 275.8 306.2 276.4 306.5 277.0 306.8 277.6 307.2 278.2 307.5 278.8 307.7 279.4 308.0 280.0 308.3 280.6 308.5 281.2 308.7 281.8 308.9 282.4 309.1 283.0 309.3 283.6 309.5 284.2 309.7 284.8 309.9 285.4 310.0 286.0 310.2 286.6 310.3 287.2 310.5 287.8 310.6 288.4 310.8 289.0 310.9 289.6 311.0 290.2 311.1 290.8 311.2 291.4 311.3 292.0 311.4 292.6 311.5 293.2 311.6 293.8 311.7 294.4 311.8 295.0 311.9 295.6 311.9 296.2 312.0 296.8 312.0 297.4 312.1 298.0 312.1 298.6 312.2 299.2 312.3 299.8 312.3 300.4 312.3 301.0 312.4 301.6 312.4 302.2 312.5 302.8 312.5 303.4 312.6 304.0 312.6 304.6 312.7 305.2 312.7 305.8 312.7 306.4 312.8 307.0 312.8 307.6 312.8 308.2 312.9 308.8 312.9 309.4 312.9 310.0 312.9 310.6 313.0 311.2 313.0 311.8 313.0 312.4 313.0 313.0 313.1 313.6 313.1 314.2 313.1 314.8 313.1 315.4 313.2 316.0 313.2 316.6 313.2 317.2 313.2 317.8 313.2 318.4 313.3 319.0 313.3 319.6 313.3 320.2 313.3 320.8 313.3 321.4 313.3 322.0 313.4 322.6 313.4 323.2 313.4 323.8 313.4 324.4 313.4 325.0 313.4 325.6 313.5 326.2 313.5 326.8 313.5 327.4 313.5 328.0 313.5 328.6 313.5 329.2 313.5 329.8 313.5 330.4 313.6 331.0 313.6 331.6 313.6 332.2 313.6 332.8 313.6 333.4 313.6 334.0 313.6 334.6 313.6 335.2 313.6 335.8 313.6 336.4 313.7 337.0 313.7 337.6 313.7 338.2 313.7 338.8 313.7 339.4 313.7 340.0 313.7 340.6 313.7 341.2 313.7 341.8 313.7 342.4 313.7 343.0 313.7 343.6 313.8 344.2 313.8 344.8 313.8 345.4 313.8 346.0 313.8 346.6 313.8 347.2 313.8 347.8 313.8 348.4 313.8 349.0 313.8 349.6 313.8 350.2 313.8 350.8 313.8 351.4 313.8 352.0 313.8 352.6 313.9 353.2 313.9 353.8 313.9 354.4 313.9 355.0 313.9 355.6 313.9 356.2 313.9 356.8 313.9 357.4 313.9 358.0 313.9 358.6 313.9 359.2 313.9 359.8 313.9 360.4 313.9 361.0 313.9 361.6 313.9 362.2 313.9 362.8 313.9 363.4 314.0 364.0 314.0 364.6 314.0 365.2 314.0 365.8 314.0 366.4 314.0 367.0 314.0 367.6 314.0 368.2 314.0 368.8 314.0 369.4 314.0 370.0 314.0" stroke="#10e0b0" stroke-width="1.05" fill="none"/>
<path d="M197.2 216.2 197.8 212.1 198.4 208.2 199.0 204.2 199.6 200.4 200.2 197.7 200.8 195.8 201.4 195.4 202.0 196.5 202.6 198.9 203.2 203.1 203.8 207.6 204.4 210.3 205.0 212.6 205.6 214.8 206.2 216.9 206.8 218.8 207.4 220.7 208.0 222.9 208.6 224.5 209.2 225.7 209.8 226.8 210.4 227.6 211.0 228.6 211.6 229.8 212.2 231.5 212.8 233.7 213.4 236.1 214.0 239.2 214.6 242.4 215.2 245.6 215.8 248.8 216.4 251.6 217.0 254.0 217.6 256.1 218.2 257.8 218.8 259.3 219.4 261.4 220.0 264.3 220.6 266.1 221.2 267.3 221.8 267.8 222.4 268.1 223.0 268.2 223.6 268.2 224.2 268.1 224.8 267.7 225.4 267.2 226.0 266.7 226.6 266.2 227.2 265.6 227.8 265.1 228.4 264.5 229.0 264.0 229.6 263.4 230.2 262.9 230.8 262.4 231.4 262.0 232.0 261.8 232.6 261.8 233.2 262.0 233.8 262.6 234.4 264.2 235.0 266.1 235.6 268.9 236.2 271.6 236.8 273.1 237.4 274.1 238.0 275.0 238.6 275.7 239.2 276.4 239.8 277.0 240.4 277.6 241.0 278.3 241.6 279.0 242.2 279.7 242.8 280.2 243.4 280.7 244.0 281.2 244.6 281.6 245.2 282.1 245.8 282.5 246.4 283.0 247.0 283.4 247.6 283.8 248.2 284.3 248.8 284.8 249.4 285.3 250.0 285.9 250.6 286.5 251.2 287.1 251.8 287.7 252.4 288.3 253.0 288.8 253.6 289.4 254.2 290.0 254.8 290.5 255.4 291.1 256.0 291.6 256.6 292.1 257.2 292.6 257.8 293.1 258.4 293.6 259.0 294.1 259.6 294.5 260.2 295.0 260.8 295.5 261.4 295.9 262.0 296.4 262.6 296.8 263.2 297.2 263.8 297.7 264.4 298.1 265.0 298.5 265.6 298.9 266.2 299.3 266.8 299.7 267.4 300.1 268.0 300.5 268.6 300.9 269.2 301.3 269.8 301.7 270.4 302.1 271.0 302.4 271.6 302.8 272.2 303.2 272.8 303.5 273.4 303.9 274.0 304.2 274.6 304.6 275.2 304.9 275.8 305.3 276.4 305.6 277.0 305.9 277.6 306.3 278.2 306.6 278.8 306.9 279.4 307.2 280.0 307.4 280.6 307.7 281.2 307.9 281.8 308.1 282.4 308.3 283.0 308.5 283.6 308.7 284.2 308.9 284.8 309.1 285.4 309.3 286.0 309.4 286.6 309.6 287.2 309.7 287.8 309.9 288.4 310.0 289.0 310.2 289.6 310.3 290.2 310.4 290.8 310.5 291.4 310.6 292.0 310.8 292.6 310.9 293.2 311.0 293.8 311.1 294.4 311.2 295.0 311.2 295.6 311.3 296.2 311.4 296.8 311.4 297.4 311.5 298.0 311.6 298.6 311.6 299.2 311.7 299.8 311.8 300.4 311.8 301.0 311.9 301.6 311.9 302.2 312.0 302.8 312.0 303.4 312.1 304.0 312.1 304.6 312.2 305.2 312.2 305.8 312.3 306.4 312.3 307.0 312.3 307.6 312.4 308.2 312.4 308.8 312.5 309.4 312.5 310.0 312.5 310.6 312.6 311.2 312.6 311.8 312.6 312.4 312.6 313.0 312.7 313.6 312.7 314.2 312.7 314.8 312.7 315.4 312.8 316.0 312.8 316.6 312.8 317.2 312.8 317.8 312.9 318.4 312.9 319.0 312.9 319.6 312.9 320.2 313.0 320.8 313.0 321.4 313.0 322.0 313.0 322.6 313.0 323.2 313.1 323.8 313.1 324.4 313.1 325.0 313.1 325.6 313.1 326.2 313.1 326.8 313.2 327.4 313.2 328.0 313.2 328.6 313.2 329.2 313.2 329.8 313.2 330.4 313.2 331.0 313.3 331.6 313.3 332.2 313.3 332.8 313.3 333.4 313.3 334.0 313.3 334.6 313.3 335.2 313.3 335.8 313.4 336.4 313.4 337.0 313.4 337.6 313.4 338.2 313.4 338.8 313.4 339.4 313.4 340.0 313.4 340.6 313.4 341.2 313.5 341.8 313.5 342.4 313.5 343.0 313.5 343.6 313.5 344.2 313.5 344.8 313.5 345.4 313.5 346.0 313.5 346.6 313.5 347.2 313.5 347.8 313.5 348.4 313.6 349.0 313.6 349.6 313.6 350.2 313.6 350.8 313.6 351.4 313.6 352.0 313.6 352.6 313.6 353.2 313.6 353.8 313.6 354.4 313.6 355.0 313.6 355.6 313.6 356.2 313.7 356.8 313.7 357.4 313.7 358.0 313.7 358.6 313.7 359.2 313.7 359.8 313.7 360.4 313.7 361.0 313.7 361.6 313.7 362.2 313.7 362.8 313.7 363.4 313.7 364.0 313.7 364.6 313.7 365.2 313.7 365.8 313.8 366.4 313.8 367.0 313.8 367.6 313.8 368.2 313.8 368.8 313.8 369.4 313.8 370.0 313.8" stroke="#f020d0" stroke-width="1.05" fill="none"/>
<path d="M197.2 212.8 197.8 208.8 198.4 205.0 199.0 201.1 199.6 197.4 200.2 194.9 200.8 193.0 201.4 192.4 202.0 193.5 202.6 196.0 203.2 200.0 203.8 204.4 204.4 206.9 205.0 208.9 205.6 210.8 206.2 212.7 206.8 214.5 207.4 216.6 208.0 219.2 208.6 221.2 209.2 223.0 209.8 224.7 210.4 226.1 211.0 227.5 211.6 229.1 212.2 231.1 212.8 233.5 213.4 236.1 214.0 239.3 214.6 242.7 215.2 245.9 215.8 249.0 216.4 251.7 217.0 254.0 217.6 256.1 218.2 257.6 218.8 258.9 219.4 260.6 220.0 262.9 220.6 264.2 221.2 265.1 221.8 265.4 222.4 265.5 223.0 265.4 223.6 265.3 224.2 265.0 224.8 264.5 225.4 263.9 226.0 263.2 226.6 262.6 227.2 262.0 227.8 261.4 228.4 260.8 229.0 260.1 229.6 259.5 230.2 258.9 230.8 258.5 231.4 258.0 232.0 257.8 232.6 257.9 233.2 258.3 233.8 259.1 234.4 261.1 235.0 263.5 235.6 267.0 236.2 270.5 236.8 272.3 237.4 273.6 238.0 274.6 238.6 275.5 239.2 276.2 239.8 276.9 240.4 277.6 241.0 278.3 241.6 279.0 242.2 279.7 242.8 280.2 243.4 280.7 244.0 281.2 244.6 281.6 245.2 282.0 245.8 282.5 246.4 282.9 247.0 283.3 247.6 283.7 248.2 284.2 248.8 284.6 249.4 285.1 250.0 285.6 250.6 286.2 251.2 286.7 251.8 287.2 252.4 287.8 253.0 288.3 253.6 288.8 254.2 289.4 254.8 289.9 255.4 290.4 256.0 290.8 256.6 291.3 257.2 291.8 257.8 292.3 258.4 292.7 259.0 293.2 259.6 293.6 260.2 294.1 260.8 294.5 261.4 295.0 262.0 295.4 262.6 295.8 263.2 296.2 263.8 296.7 264.4 297.1 265.0 297.5 265.6 297.9 266.2 298.3 266.8 298.7 267.4 299.1 268.0 299.5 268.6 299.9 269.2 300.2 269.8 300.6 270.4 301.0 271.0 301.4 271.6 301.7 272.2 302.1 272.8 302.5 273.4 302.8 274.0 303.2 274.6 303.5 275.2 303.9 275.8 304.2 276.4 304.6 277.0 304.9 277.6 305.3 278.2 305.6 278.8 305.9 279.4 306.3 280.0 306.5 280.6 306.8 281.2 307.0 281.8 307.2 282.4 307.5 283.0 307.7 283.6 307.9 284.2 308.1 284.8 308.3 285.4 308.4 286.0 308.6 286.6 308.8 287.2 308.9 287.8 309.1 288.4 309.2 289.0 309.4 289.6 309.5 290.2 309.6 290.8 309.8 291.4 309.9 292.0 310.0 292.6 310.1 293.2 310.3 293.8 310.4 294.4 310.5 295.0 310.6 295.6 310.6 296.2 310.7 296.8 310.8 297.4 310.9 298.0 310.9 298.6 311.0 299.2 311.1 299.8 311.2 300.4 311.2 301.0 311.3 301.6 311.4 302.2 311.4 302.8 311.5 303.4 311.5 304.0 311.6 304.6 311.6 305.2 311.7 305.8 311.7 306.4 311.8 307.0 311.8 307.6 311.9 308.2 311.9 308.8 312.0 309.4 312.0 310.0 312.1 310.6 312.1 311.2 312.1 311.8 312.2 312.4 312.2 313.0 312.2 313.6 312.3 314.2 312.3 314.8 312.3 315.4 312.4 316.0 312.4 316.6 312.4 317.2 312.4 317.8 312.5 318.4 312.5 319.0 312.5 319.6 312.5 320.2 312.6 320.8 312.6 321.4 312.6 322.0 312.6 322.6 312.7 323.2 312.7 323.8 312.7 324.4 312.7 325.0 312.8 325.6 312.8 326.2 312.8 326.8 312.8 327.4 312.8 328.0 312.9 328.6 312.9 329.2 312.9 329.8 312.9 330.4 312.9 331.0 312.9 331.6 312.9 332.2 313.0 332.8 313.0 333.4 313.0 334.0 313.0 334.6 313.0 335.2 313.0 335.8 313.0 336.4 313.1 337.0 313.1 337.6 313.1 338.2 313.1 338.8 313.1 339.4 313.1 340.0 313.1 340.6 313.1 341.2 313.2 341.8 313.2 342.4 313.2 343.0 313.2 343.6 313.2 344.2 313.2 344.8 313.2 345.4 313.2 346.0 313.2 346.6 313.3 347.2 313.3 347.8 313.3 348.4 313.3 349.0 313.3 349.6 313.3 350.2 313.3 350.8 313.3 351.4 313.3 352.0 313.3 352.6 313.3 353.2 313.4 353.8 313.4 354.4 313.4 355.0 313.4 355.6 313.4 356.2 313.4 356.8 313.4 357.4 313.4 358.0 313.4 358.6 313.4 359.2 313.4 359.8 313.4 360.4 313.5 361.0 313.5 361.6 313.5 362.2 313.5 362.8 313.5 363.4 313.5 364.0 313.5 364.6 313.5 365.2 313.5 365.8 313.5 366.4 313.5 367.0 313.5 367.6 313.5 368.2 313.5 368.8 313.5 369.4 313.6 370.0 313.6" stroke="#508a30" stroke-width="1.05" fill="none"/>
<path d="M197.2 209.5 197.8 205.6 198.4 201.9 199.0 198.1 199.6 194.5 200.2 192.0 200.8 190.1 201.4 189.5 202.0 190.5 202.6 193.0 203.2 196.9 203.8 201.2 204.4 203.5 205.0 205.2 205.6 206.9 206.2 208.5 206.8 210.2 207.4 212.4 208.0 215.4 208.6 217.9 209.2 220.3 209.8 222.5 210.4 224.5 211.0 226.4 211.6 228.4 212.2 230.7 212.8 233.2 213.4 236.1 214.0 239.4 214.6 242.9 215.2 246.1 215.8 249.2 216.4 251.8 217.0 254.0 217.6 256.0 218.2 257.5 218.8 258.5 219.4 259.8 220.0 261.4 220.6 262.4 221.2 262.9 221.8 263.0 222.4 262.8 223.0 262.6 223.6 262.3 224.2 261.9 224.8 261.3 225.4 260.6 226.0 259.8 226.6 259.1 227.2 258.4 227.8 257.7 228.4 257.0 229.0 256.2 229.6 255.6 230.2 255.0 230.8 254.5 231.4 254.1 232.0 253.9 232.6 254.1 233.2 254.6 233.8 255.6 234.4 258.1 235.0 261.0 235.6 265.2 236.2 269.3 236.8 271.5 237.4 273.0 238.0 274.2 238.6 275.2 239.2 276.1 239.8 276.8 240.4 277.5 241.0 278.3 241.6 279.1 242.2 279.7 242.8 280.2 243.4 280.7 244.0 281.2 244.6 281.6 245.2 282.0 245.8 282.4 246.4 282.8 247.0 283.2 247.6 283.6 248.2 284.0 248.8 284.4 249.4 284.9 250.0 285.4 250.6 285.8 251.2 286.3 251.8 286.8 252.4 287.3 253.0 287.8 253.6 288.3 254.2 288.8 254.8 289.2 255.4 289.7 256.0 290.1 256.6 290.6 257.2 291.0 257.8 291.4 258.4 291.9 259.0 292.3 259.6 292.7 260.2 293.2 260.8 293.6 261.4 294.0 262.0 294.4 262.6 294.8 263.2 295.3 263.8 295.7 264.4 296.1 265.0 296.5 265.6 296.9 266.2 297.3 266.8 297.7 267.4 298.0 268.0 298.4 268.6 298.8 269.2 299.2 269.8 299.6 270.4 299.9 271.0 300.3 271.6 300.7 272.2 301.0 272.8 301.4 273.4 301.7 274.0 302.1 274.6 302.5 275.2 302.8 275.8 303.2 276.4 303.6 277.0 304.0 277.6 304.3 278.2 304.7 278.8 305.0 279.4 305.3 280.0 305.6 280.6 305.9 281.2 306.1 281.8 306.4 282.4 306.6 283.0 306.8 283.6 307.0 284.2 307.2 284.8 307.4 285.4 307.6 286.0 307.8 286.6 308.0 287.2 308.1 287.8 308.3 288.4 308.4 289.0 308.6 289.6 308.7 290.2 308.9 290.8 309.0 291.4 309.2 292.0 309.3 292.6 309.4 293.2 309.6 293.8 309.7 294.4 309.8 295.0 309.9 295.6 310.0 296.2 310.1 296.8 310.2 297.4 310.2 298.0 310.3 298.6 310.4 299.2 310.5 299.8 310.6 300.4 310.6 301.0 310.7 301.6 310.8 302.2 310.9 302.8 310.9 303.4 311.0 304.0 311.1 304.6 311.1 305.2 311.2 305.8 311.2 306.4 311.3 307.0 311.3 307.6 311.4 308.2 311.5 308.8 311.5 309.4 311.5 310.0 311.6 310.6 311.6 311.2 311.7 311.8 311.7 312.4 311.7 313.0 311.8 313.6 311.8 314.2 311.9 314.8 311.9 315.4 311.9 316.0 312.0 316.6 312.0 317.2 312.0 317.8 312.1 318.4 312.1 319.0 312.1 319.6 312.2 320.2 312.2 320.8 312.2 321.4 312.2 322.0 312.3 322.6 312.3 323.2 312.3 323.8 312.3 324.4 312.4 325.0 312.4 325.6 312.4 326.2 312.4 326.8 312.5 327.4 312.5 328.0 312.5 328.6 312.5 329.2 312.5 329.8 312.6 330.4 312.6 331.0 312.6 331.6 312.6 332.2 312.6 332.8 312.7 333.4 312.7 334.0 312.7 334.6 312.7 335.2 312.7 335.8 312.7 336.4 312.8 337.0 312.8 337.6 312.8 338.2 312.8 338.8 312.8 339.4 312.8 340.0 312.8 340.6 312.9 341.2 312.9 341.8 312.9 342.4 312.9 343.0 312.9 343.6 312.9 344.2 312.9 344.8 312.9 345.4 312.9 346.0 313.0 346.6 313.0 347.2 313.0 347.8 313.0 348.4 313.0 349.0 313.0 349.6 313.0 350.2 313.0 350.8 313.0 351.4 313.1 352.0 313.1 352.6 313.1 353.2 313.1 353.8 313.1 354.4 313.1 355.0 313.1 355.6 313.1 356.2 313.1 356.8 313.2 357.4 313.2 358.0 313.2 358.6 313.2 359.2 313.2 359.8 313.2 360.4 313.2 361.0 313.2 361.6 313.2 362.2 313.2 362.8 313.2 363.4 313.3 364.0 313.3 364.6 313.3 365.2 313.3 365.8 313.3 366.4 313.3 367.0 313.3 367.6 313.3 368.2 313.3 368.8 313.3 369.4 313.3 370.0 313.3" stroke="#8c8c10" stroke-width="1.05" fill="none"/>
<path d="M197.2 206.5 197.8 202.7 198.4 199.0 199.0 195.3 199.6 191.8 200.2 189.4 200.8 187.5 201.4 186.7 202.0 187.7 202.6 190.3 203.2 194.1 203.8 198.2 204.4 200.3 205.0 201.8 205.6 203.3 206.2 204.7 206.8 206.2 207.4 208.6 208.0 211.9 208.6 214.9 209.2 217.8 209.8 220.6 210.4 223.0 211.0 225.3 211.6 227.7 212.2 230.3 212.8 233.1 213.4 236.0 214.0 239.5 214.6 243.1 215.2 246.3 215.8 249.4 216.4 252.0 217.0 254.1 217.6 256.0 218.2 257.3 218.8 258.1 219.4 259.0 220.0 260.1 220.6 260.7 221.2 261.0 221.8 260.7 222.4 260.4 223.0 260.0 223.6 259.6 224.2 259.0 224.8 258.4 225.4 257.5 226.0 256.7 226.6 255.8 227.2 255.0 227.8 254.2 228.4 253.5 229.0 252.7 229.6 252.0 230.2 251.4 230.8 250.9 231.4 250.5 232.0 250.3 232.6 250.5 233.2 251.1 233.8 252.4 234.4 255.3 235.0 258.7 235.6 263.6 236.2 268.3 236.8 270.7 237.4 272.5 238.0 273.8 238.6 275.0 239.2 275.9 239.8 276.7 240.4 277.5 241.0 278.3 241.6 279.1 242.2 279.8 242.8 280.3 243.4 280.8 244.0 281.2 244.6 281.6 245.2 282.0 245.8 282.4 246.4 282.7 247.0 283.1 247.6 283.4 248.2 283.8 248.8 284.2 249.4 284.7 250.0 285.1 250.6 285.5 251.2 286.0 251.8 286.4 252.4 286.9 253.0 287.3 253.6 287.7 254.2 288.2 254.8 288.6 255.4 289.0 256.0 289.5 256.6 289.9 257.2 290.3 257.8 290.7 258.4 291.1 259.0 291.5 259.6 291.9 260.2 292.3 260.8 292.7 261.4 293.1 262.0 293.5 262.6 293.9 263.2 294.3 263.8 294.7 264.4 295.1 265.0 295.5 265.6 295.9 266.2 296.3 266.8 296.7 267.4 297.1 268.0 297.5 268.6 297.8 269.2 298.2 269.8 298.6 270.4 299.0 271.0 299.3 271.6 299.7 272.2 300.1 272.8 300.4 273.4 300.8 274.0 301.1 274.6 301.5 275.2 301.9 275.8 302.3 276.4 302.7 277.0 303.0 277.6 303.4 278.2 303.8 278.8 304.2 279.4 304.5 280.0 304.8 280.6 305.1 281.2 305.3 281.8 305.6 282.4 305.8 283.0 306.0 283.6 306.2 284.2 306.4 284.8 306.6 285.4 306.8 286.0 307.0 286.6 307.2 287.2 307.4 287.8 307.5 288.4 307.7 289.0 307.9 289.6 308.0 290.2 308.2 290.8 308.3 291.4 308.5 292.0 308.6 292.6 308.8 293.2 308.9 293.8 309.0 294.4 309.1 295.0 309.3 295.6 309.4 296.2 309.5 296.8 309.6 297.4 309.7 298.0 309.8 298.6 309.8 299.2 309.9 299.8 310.0 300.4 310.1 301.0 310.2 301.6 310.3 302.2 310.3 302.8 310.4 303.4 310.5 304.0 310.6 304.6 310.6 305.2 310.7 305.8 310.8 306.4 310.8 307.0 310.9 307.6 311.0 308.2 311.0 308.8 311.1 309.4 311.1 310.0 311.2 310.6 311.2 311.2 311.3 311.8 311.3 312.4 311.3 313.0 311.4 313.6 311.4 314.2 311.5 314.8 311.5 315.4 311.5 316.0 311.6 316.6 311.6 317.2 311.7 317.8 311.7 318.4 311.7 319.0 311.8 319.6 311.8 320.2 311.8 320.8 311.9 321.4 311.9 322.0 311.9 322.6 312.0 323.2 312.0 323.8 312.0 324.4 312.0 325.0 312.1 325.6 312.1 326.2 312.1 326.8 312.1 327.4 312.2 328.0 312.2 328.6 312.2 329.2 312.2 329.8 312.3 330.4 312.3 331.0 312.3 331.6 312.3 332.2 312.3 332.8 312.4 333.4 312.4 334.0 312.4 334.6 312.4 335.2 312.4 335.8 312.5 336.4 312.5 337.0 312.5 337.6 312.5 338.2 312.5 338.8 312.5 339.4 312.5 340.0 312.6 340.6 312.6 341.2 312.6 341.8 312.6 342.4 312.6 343.0 312.6 343.6 312.6 344.2 312.7 344.8 312.7 345.4 312.7 346.0 312.7 346.6 312.7 347.2 312.7 347.8 312.7 348.4 312.8 349.0 312.8 349.6 312.8 350.2 312.8 350.8 312.8 351.4 312.8 352.0 312.8 352.6 312.8 353.2 312.8 353.8 312.9 354.4 312.9 355.0 312.9 355.6 312.9 356.2 312.9 356.8 312.9 357.4 312.9 358.0 312.9 358.6 312.9 359.2 313.0 359.8 313.0 360.4 313.0 361.0 313.0 361.6 313.0 362.2 313.0 362.8 313.0 363.4 313.0 364.0 313.0 364.6 313.0 365.2 313.1 365.8 313.1 366.4 313.1 367.0 313.1 367.6 313.1 368.2 313.1 368.8 313.1 369.4 313.1 370.0 313.1" stroke="#1030f0" stroke-width="1.05" fill="none"/>
<path d="M197.2 202.9 197.8 199.1 198.4 195.6 199.0 192.0 199.6 188.6 200.2 186.3 200.8 184.5 201.4 183.5 202.0 184.5 202.6 187.0 203.2 190.7 203.8 194.8 204.4 196.6 205.0 197.8 205.6 199.0 206.2 200.2 206.8 201.5 207.4 204.1 208.0 207.9 208.6 211.4 209.2 214.8 209.8 218.2 210.4 221.3 211.0 224.1 211.6 226.9 212.2 229.9 212.8 232.8 213.4 236.0 214.0 239.7 214.6 243.4 215.2 246.6 215.8 249.6 216.4 252.1 217.0 254.1 217.6 255.9 218.2 257.2 218.8 257.7 219.4 258.1 220.0 258.5 220.6 258.7 221.2 258.6 221.8 258.1 222.4 257.5 223.0 256.9 223.6 256.4 224.2 255.7 224.8 254.9 225.4 253.9 226.0 252.9 226.6 252.0 227.2 251.1 227.8 250.2 228.4 249.4 229.0 248.5 229.6 247.7 230.2 247.1 230.8 246.6 231.4 246.2 232.0 246.0 232.6 246.4 233.2 247.1 233.8 248.6 234.4 252.0 235.0 256.0 235.6 261.6 236.2 267.1 236.8 269.9 237.4 271.9 238.0 273.4 238.6 274.7 239.2 275.8 239.8 276.6 240.4 277.5 241.0 278.3 241.6 279.1 242.2 279.8 242.8 280.3 243.4 280.8 244.0 281.2 244.6 281.6 245.2 282.0 245.8 282.3 246.4 282.6 247.0 283.0 247.6 283.3 248.2 283.7 248.8 284.0 249.4 284.4 250.0 284.8 250.6 285.2 251.2 285.6 251.8 286.0 252.4 286.3 253.0 286.7 253.6 287.1 254.2 287.5 254.8 287.9 255.4 288.3 256.0 288.7 256.6 289.0 257.2 289.4 257.8 289.8 258.4 290.2 259.0 290.6 259.6 291.0 260.2 291.3 260.8 291.7 261.4 292.1 262.0 292.5 262.6 292.9 263.2 293.3 263.8 293.7 264.4 294.0 265.0 294.4 265.6 294.8 266.2 295.2 266.8 295.6 267.4 296.0 268.0 296.3 268.6 296.7 269.2 297.1 269.8 297.4 270.4 297.8 271.0 298.2 271.6 298.5 272.2 298.9 272.8 299.3 273.4 299.6 274.0 300.0 274.6 300.4 275.2 300.8 275.8 301.2 276.4 301.6 277.0 302.0 277.6 302.4 278.2 302.8 278.8 303.1 279.4 303.5 280.0 303.8 280.6 304.1 281.2 304.4 281.8 304.6 282.4 304.9 283.0 305.1 283.6 305.3 284.2 305.5 284.8 305.7 285.4 305.9 286.0 306.1 286.6 306.3 287.2 306.5 287.8 306.7 288.4 306.9 289.0 307.0 289.6 307.2 290.2 307.4 290.8 307.5 291.4 307.7 292.0 307.8 292.6 308.0 293.2 308.1 293.8 308.3 294.4 308.4 295.0 308.5 295.6 308.6 296.2 308.8 296.8 308.9 297.4 309.0 298.0 309.1 298.6 309.2 299.2 309.3 299.8 309.4 300.4 309.5 301.0 309.6 301.6 309.7 302.2 309.7 302.8 309.8 303.4 309.9 304.0 310.0 304.6 310.1 305.2 310.1 305.8 310.2 306.4 310.3 307.0 310.4 307.6 310.4 308.2 310.5 308.8 310.5 309.4 310.6 310.0 310.7 310.6 310.7 311.2 310.8 311.8 310.8 312.4 310.9 313.0 310.9 313.6 311.0 314.2 311.0 314.8 311.0 315.4 311.1 316.0 311.1 316.6 311.2 317.2 311.2 317.8 311.3 318.4 311.3 319.0 311.3 319.6 311.4 320.2 311.4 320.8 311.5 321.4 311.5 322.0 311.5 322.6 311.6 323.2 311.6 323.8 311.6 324.4 311.7 325.0 311.7 325.6 311.7 326.2 311.7 326.8 311.8 327.4 311.8 328.0 311.8 328.6 311.9 329.2 311.9 329.8 311.9 330.4 311.9 331.0 311.9 331.6 312.0 332.2 312.0 332.8 312.0 333.4 312.0 334.0 312.1 334.6 312.1 335.2 312.1 335.8 312.1 336.4 312.1 337.0 312.2 337.6 312.2 338.2 312.2 338.8 312.2 339.4 312.2 340.0 312.2 340.6 312.3 341.2 312.3 341.8 312.3 342.4 312.3 343.0 312.3 343.6 312.3 344.2 312.4 344.8 312.4 345.4 312.4 346.0 312.4 346.6 312.4 347.2 312.4 347.8 312.4 348.4 312.5 349.0 312.5 349.6 312.5 350.2 312.5 350.8 312.5 351.4 312.5 352.0 312.5 352.6 312.5 353.2 312.6 353.8 312.6 354.4 312.6 355.0 312.6 355.6 312.6 356.2 312.6 356.8 312.6 357.4 312.7 358.0 312.7 358.6 312.7 359.2 312.7 359.8 312.7 360.4 312.7 361.0 312.7 361.6 312.7 362.2 312.7 362.8 312.8 363.4 312.8 364.0 312.8 364.6 312.8 365.2 312.8 365.8 312.8 366.4 312.8 367.0 312.8 367.6 312.8 368.2 312.8 368.8 312.9 369.4 312.9 370.0 312.9" stroke="#10d010" stroke-width="1.05" fill="none"/>
<path d="M197.2 201.7 197.8 198.1 198.4 194.6 199.0 191.0 199.6 187.7 200.2 185.3 200.8 183.5 201.4 182.5 202.0 183.5 202.6 186.1 203.2 189.7 203.8 193.7 204.4 195.4 205.0 196.6 205.6 197.7 206.2 198.8 206.8 200.1 207.4 202.7 208.0 206.6 208.6 210.3 209.2 213.9 209.8 217.5 210.4 220.8 211.0 223.8 211.6 226.7 212.2 229.7 212.8 232.8 213.4 236.0 214.0 239.7 214.6 243.4 215.2 246.7 215.8 249.7 216.4 252.2 217.0 254.1 217.6 255.9 218.2 257.1 218.8 257.6 219.4 257.8 220.0 258.0 220.6 258.1 221.2 257.9 221.8 257.3 222.4 256.6 223.0 256.0 223.6 255.4 224.2 254.7 224.8 253.8 225.4 252.8 226.0 251.8 226.6 250.8 227.2 249.9 227.8 249.0 228.4 248.1 229.0 247.2 229.6 246.4 230.2 245.8 230.8 245.3 231.4 244.8 232.0 244.7 232.6 245.1 233.2 245.9 233.8 247.5 234.4 251.0 235.0 255.1 235.6 261.0 236.2 266.7 236.8 269.6 237.4 271.7 238.0 273.3 238.6 274.6 239.2 275.7 239.8 276.6 240.4 277.5 241.0 278.3 241.6 279.1 242.2 279.8 242.8 280.3 243.4 280.8 244.0 281.2 244.6 281.6 245.2 282.0 245.8 282.3 246.4 282.6 247.0 282.9 247.6 283.3 248.2 283.6 248.8 284.0 249.4 284.3 250.0 284.7 250.6 285.1 251.2 285.4 251.8 285.8 252.4 286.2 253.0 286.6 253.6 286.9 254.2 287.3 254.8 287.7 255.4 288.0 256.0 288.4 256.6 288.8 257.2 289.2 257.8 289.5 258.4 289.9 259.0 290.3 259.6 290.7 260.2 291.0 260.8 291.4 261.4 291.8 262.0 292.2 262.6 292.6 263.2 292.9 263.8 293.3 264.4 293.7 265.0 294.1 265.6 294.5 266.2 294.9 266.8 295.2 267.4 295.6 268.0 296.0 268.6 296.4 269.2 296.7 269.8 297.1 270.4 297.4 271.0 297.8 271.6 298.2 272.2 298.5 272.8 298.9 273.4 299.3 274.0 299.6 274.6 300.0 275.2 300.4 275.8 300.8 276.4 301.2 277.0 301.6 277.6 302.1 278.2 302.4 278.8 302.8 279.4 303.2 280.0 303.5 280.6 303.8 281.2 304.1 281.8 304.3 282.4 304.6 283.0 304.8 283.6 305.0 284.2 305.2 284.8 305.5 285.4 305.7 286.0 305.8 286.6 306.0 287.2 306.2 287.8 306.4 288.4 306.6 289.0 306.8 289.6 306.9 290.2 307.1 290.8 307.3 291.4 307.4 292.0 307.6 292.6 307.8 293.2 307.9 293.8 308.0 294.4 308.2 295.0 308.3 295.6 308.4 296.2 308.5 296.8 308.6 297.4 308.8 298.0 308.9 298.6 309.0 299.2 309.1 299.8 309.2 300.4 309.3 301.0 309.4 301.6 309.5 302.2 309.6 302.8 309.6 303.4 309.7 304.0 309.8 304.6 309.9 305.2 310.0 305.8 310.0 306.4 310.1 307.0 310.2 307.6 310.3 308.2 310.3 308.8 310.4 309.4 310.4 310.0 310.5 310.6 310.6 311.2 310.6 311.8 310.7 312.4 310.7 313.0 310.8 313.6 310.8 314.2 310.9 314.8 310.9 315.4 311.0 316.0 311.0 316.6 311.0 317.2 311.1 317.8 311.1 318.4 311.2 319.0 311.2 319.6 311.2 320.2 311.3 320.8 311.3 321.4 311.4 322.0 311.4 322.6 311.4 323.2 311.5 323.8 311.5 324.4 311.5 325.0 311.6 325.6 311.6 326.2 311.6 326.8 311.7 327.4 311.7 328.0 311.7 328.6 311.7 329.2 311.8 329.8 311.8 330.4 311.8 331.0 311.8 331.6 311.9 332.2 311.9 332.8 311.9 333.4 311.9 334.0 312.0 334.6 312.0 335.2 312.0 335.8 312.0 336.4 312.0 337.0 312.1 337.6 312.1 338.2 312.1 338.8 312.1 339.4 312.1 340.0 312.1 340.6 312.2 341.2 312.2 341.8 312.2 342.4 312.2 343.0 312.2 343.6 312.2 344.2 312.3 344.8 312.3 345.4 312.3 346.0 312.3 346.6 312.3 347.2 312.3 347.8 312.3 348.4 312.4 349.0 312.4 349.6 312.4 350.2 312.4 350.8 312.4 351.4 312.4 352.0 312.4 352.6 312.5 353.2 312.5 353.8 312.5 354.4 312.5 355.0 312.5 355.6 312.5 356.2 312.5 356.8 312.6 357.4 312.6 358.0 312.6 358.6 312.6 359.2 312.6 359.8 312.6 360.4 312.6 361.0 312.6 361.6 312.7 362.2 312.7 362.8 312.7 363.4 312.7 364.0 312.7 364.6 312.7 365.2 312.7 365.8 312.7 366.4 312.7 367.0 312.8 367.6 312.8 368.2 312.8 368.8 312.8 369.4 312.8 370.0 312.8" stroke="#ff0a0a" stroke-width="1.05" fill="none"/>
<path d="M205.6 198C205.82 198.67 206.5 199.67 206.9 202C207.3 204.33 207.6 208.17 208 212C208.4 215.83 208.88 221.58 209.3 225C209.72 228.42 210.17 231.42 210.5 232.5C210.83 233.58 211 232 211.3 231.5C211.6 231 211.97 229.72 212.3 229.5C212.63 229.28 212.93 229.62 213.3 230.2C213.67 230.78 214.05 230.87 214.5 233C214.95 235.13 215.45 239.38 216 243C216.55 246.62 217.3 252.12 217.8 254.7C218.3 257.28 218.8 257.87 219 258.5" stroke="#222" stroke-width="0.8" fill="none"/>
<path d="M276.6 199.7 277.2 200.3 277.8 201.2 278.4 202.2 279.0 203.5 279.6 205.2 280.2 207.0 280.8 209.0 281.4 211.3 282.0 213.7 282.6 215.9 283.2 218.0 283.8 220.1 284.4 222.0 285.0 223.8 285.6 225.4 286.2 227.0 286.8 228.6 287.4 230.3 288.0 231.8 288.6 233.3 289.2 234.6 289.8 235.8 290.4 236.9 291.0 237.7 291.6 238.5 292.2 239.1 292.8 239.6 293.4 240.0 294.0 240.4 294.6 240.6 295.2 240.6 295.8 240.6 296.4 240.6 297.0 240.6 297.6 240.5 298.2 240.5 298.8 240.4 299.4 240.2 300.0 240.0 300.6 239.7 301.2 239.5 301.8 239.3 302.4 239.0 303.0 238.7 303.6 238.5 304.2 238.2 304.8 237.9 305.4 237.5 306.0 237.2 306.6 236.9 307.2 236.6 307.8 236.4 308.4 236.1 309.0 235.8 309.6 235.6 310.2 235.4 310.8 235.1 311.4 234.9 312.0 234.7 312.6 234.5 313.2 234.3 313.8 234.0 314.4 233.9 315.0 233.7 315.6 233.6 316.2 233.5 316.8 233.4 317.4 233.3 318.0 233.3 318.6 233.2 319.2 233.2 319.8 233.2 320.4 233.2 321.0 233.2 321.6 233.3 322.2 233.3 322.8 233.4 323.4 233.4 324.0 233.5 324.6 233.7 325.2 233.9 325.8 234.1 326.4 234.3 327.0 234.5 327.6 234.7 328.2 235.0 328.8 235.3 329.4 235.6 330.0 235.9 330.6 236.2 331.2 236.5 331.8 236.9 332.4 237.2 333.0 237.6 333.6 238.0 334.2 238.4 334.8 238.8 335.4 239.2 336.0 239.6 336.6 240.0 337.2 240.4 337.8 240.8 338.4 241.2 339.0 241.6 339.6 242.0 340.2 242.4 340.8 242.8 341.4 243.2 342.0 243.7 342.6 244.1 343.2 244.5 343.8 244.9 344.4 245.4 345.0 245.8 345.6 246.2 346.2 246.6 346.8 247.1 347.4 247.5 348.0 247.9 348.6 248.3 349.2 248.7 349.8 249.1 350.4 249.5 351.0 249.9 351.6 250.3 352.2 250.7 352.8 251.1 353.4 251.5 354.0 251.8 354.6 252.2 355.2 252.5 355.8 252.8 356.4 253.1 357.0 253.4 357.6 253.7 358.2 254.0 358.8 254.2 359.4 254.5 360.0 254.7" stroke="#eeee00" stroke-width="1.05" fill="none"/>
<path d="M276.6 199.4 277.2 200.2 277.8 201.1 278.4 202.1 279.0 203.4 279.6 205.0 280.2 206.7 280.8 208.5 281.4 210.6 282.0 212.7 282.6 214.6 283.2 216.5 283.8 218.3 284.4 219.9 285.0 221.5 285.6 222.9 286.2 224.3 286.8 225.7 287.4 227.1 288.0 228.4 288.6 229.7 289.2 230.7 289.8 231.8 290.4 232.6 291.0 233.3 291.6 233.9 292.2 234.4 292.8 234.8 293.4 235.1 294.0 235.3 294.6 235.4 295.2 235.4 295.8 235.3 296.4 235.2 297.0 235.1 297.6 235.0 298.2 234.8 298.8 234.6 299.4 234.4 300.0 234.1 300.6 233.8 301.2 233.5 301.8 233.1 302.4 232.8 303.0 232.5 303.6 232.1 304.2 231.8 304.8 231.5 305.4 231.1 306.0 230.8 306.6 230.5 307.2 230.2 307.8 229.9 308.4 229.6 309.0 229.4 309.6 229.1 310.2 228.9 310.8 228.7 311.4 228.4 312.0 228.2 312.6 228.0 313.2 227.8 313.8 227.7 314.4 227.5 315.0 227.4 315.6 227.4 316.2 227.5 316.8 227.7 317.4 227.9 318.0 228.3 318.6 228.7 319.2 229.0 319.8 229.4 320.4 229.7 321.0 230.1 321.6 230.4 322.2 230.8 322.8 231.1 323.4 231.5 324.0 231.8 324.6 232.2 325.2 232.6 325.8 233.0 326.4 233.4 327.0 233.7 327.6 234.1 328.2 234.4 328.8 234.8 329.4 235.2 330.0 235.6 330.6 236.0 331.2 236.3 331.8 236.7 332.4 237.1 333.0 237.5 333.6 237.9 334.2 238.3 334.8 238.7 335.4 239.1 336.0 239.5 336.6 239.8 337.2 240.2 337.8 240.6 338.4 241.0 339.0 241.4 339.6 241.8 340.2 242.1 340.8 242.5 341.4 242.9 342.0 243.3 342.6 243.7 343.2 244.1 343.8 244.5 344.4 244.9 345.0 245.3 345.6 245.7 346.2 246.1 346.8 246.5 347.4 246.9 348.0 247.3 348.6 247.7 349.2 248.1 349.8 248.5 350.4 248.9 351.0 249.3 351.6 249.6 352.2 250.0 352.8 250.4 353.4 250.7 354.0 251.1 354.6 251.4 355.2 251.7 355.8 252.0 356.4 252.3 357.0 252.6 357.6 252.8 358.2 253.1 358.8 253.3 359.4 253.6 360.0 253.8" stroke="#008a80" stroke-width="1.05" fill="none"/>
<path d="M276.6 199.3 277.2 200.1 277.8 201.1 278.4 202.1 279.0 203.4 279.6 204.9 280.2 206.5 280.8 208.2 281.4 210.1 282.0 212.1 282.6 213.9 283.2 215.5 283.8 217.2 284.4 218.7 285.0 220.1 285.6 221.4 286.2 222.7 286.8 223.9 287.4 225.2 288.0 226.3 288.6 227.4 289.2 228.4 289.8 229.3 290.4 230.0 291.0 230.6 291.6 231.1 292.2 231.6 292.8 231.8 293.4 232.0 294.0 232.2 294.6 232.2 295.2 232.1 295.8 232.0 296.4 231.9 297.0 231.7 297.6 231.5 298.2 231.4 298.8 231.1 299.4 230.8 300.0 230.4 300.6 230.1 301.2 229.7 301.8 229.4 302.4 229.0 303.0 228.6 303.6 228.2 304.2 227.9 304.8 227.5 305.4 227.2 306.0 226.8 306.6 226.5 307.2 226.2 307.8 225.9 308.4 225.7 309.0 225.4 309.6 225.1 310.2 224.9 310.8 224.7 311.4 224.5 312.0 224.3 312.6 224.1 313.2 223.9 313.8 223.7 314.4 223.6 315.0 223.6 315.6 223.7 316.2 223.8 316.8 224.1 317.4 224.6 318.0 225.2 318.6 225.8 319.2 226.4 319.8 227.0 320.4 227.5 321.0 228.1 321.6 228.6 322.2 229.2 322.8 229.7 323.4 230.3 324.0 230.8 324.6 231.3 325.2 231.9 325.8 232.4 326.4 232.8 327.0 233.3 327.6 233.7 328.2 234.1 328.8 234.5 329.4 235.0 330.0 235.4 330.6 235.8 331.2 236.2 331.8 236.6 332.4 237.0 333.0 237.4 333.6 237.8 334.2 238.2 334.8 238.6 335.4 239.0 336.0 239.4 336.6 239.7 337.2 240.1 337.8 240.5 338.4 240.9 339.0 241.2 339.6 241.6 340.2 242.0 340.8 242.3 341.4 242.7 342.0 243.1 342.6 243.5 343.2 243.9 343.8 244.3 344.4 244.7 345.0 245.0 345.6 245.4 346.2 245.8 346.8 246.2 347.4 246.6 348.0 247.0 348.6 247.4 349.2 247.7 349.8 248.1 350.4 248.5 351.0 248.8 351.6 249.2 352.2 249.6 352.8 249.9 353.4 250.3 354.0 250.6 354.6 250.9 355.2 251.2 355.8 251.5 356.4 251.8 357.0 252.0 357.6 252.3 358.2 252.6 358.8 252.8 359.4 253.0 360.0 253.3" stroke="#2030f0" stroke-width="1.05" fill="none"/>
<path d="M276.6 199.1 277.2 200.0 277.8 201.0 278.4 202.1 279.0 203.4 279.6 204.8 280.2 206.4 280.8 207.9 281.4 209.8 282.0 211.6 282.6 213.2 283.2 214.7 283.8 216.2 284.4 217.6 285.0 218.9 285.6 220.0 286.2 221.2 286.8 222.3 287.4 223.4 288.0 224.5 288.6 225.5 289.2 226.3 289.8 227.1 290.4 227.8 291.0 228.3 291.6 228.7 292.2 229.0 292.8 229.2 293.4 229.4 294.0 229.5 294.6 229.5 295.2 229.3 295.8 229.2 296.4 229.0 297.0 228.8 297.6 228.5 298.2 228.3 298.8 228.0 299.4 227.6 300.0 227.2 300.6 226.8 301.2 226.5 301.8 226.0 302.4 225.6 303.0 225.2 303.6 224.8 304.2 224.5 304.8 224.1 305.4 223.7 306.0 223.4 306.6 223.1 307.2 222.7 307.8 222.5 308.4 222.2 309.0 221.9 309.6 221.7 310.2 221.4 310.8 221.2 311.4 221.0 312.0 220.8 312.6 220.6 313.2 220.4 313.8 220.3 314.4 220.2 315.0 220.3 315.6 220.4 316.2 220.6 316.8 221.1 317.4 221.7 318.0 222.6 318.6 223.4 319.2 224.1 319.8 224.9 320.4 225.7 321.0 226.4 321.6 227.1 322.2 227.8 322.8 228.5 323.4 229.2 324.0 229.9 324.6 230.5 325.2 231.2 325.8 231.8 326.4 232.3 327.0 232.9 327.6 233.3 328.2 233.8 328.8 234.3 329.4 234.8 330.0 235.2 330.6 235.7 331.2 236.1 331.8 236.5 332.4 236.9 333.0 237.3 333.6 237.7 334.2 238.1 334.8 238.5 335.4 238.9 336.0 239.3 336.6 239.6 337.2 240.0 337.8 240.4 338.4 240.7 339.0 241.1 339.6 241.5 340.2 241.8 340.8 242.2 341.4 242.5 342.0 242.9 342.6 243.3 343.2 243.7 343.8 244.0 344.4 244.4 345.0 244.8 345.6 245.2 346.2 245.5 346.8 245.9 347.4 246.3 348.0 246.7 348.6 247.0 349.2 247.4 349.8 247.8 350.4 248.1 351.0 248.5 351.6 248.8 352.2 249.2 352.8 249.5 353.4 249.8 354.0 250.2 354.6 250.5 355.2 250.8 355.8 251.1 356.4 251.3 357.0 251.6 357.6 251.9 358.2 252.1 358.8 252.3 359.4 252.6 360.0 252.8" stroke="#00b030" stroke-width="1.05" fill="none"/>
<path d="M276.6 198.9 277.2 199.9 277.8 201.0 278.4 202.1 279.0 203.3 279.6 204.7 280.2 206.1 280.8 207.6 281.4 209.3 282.0 210.9 282.6 212.3 283.2 213.6 283.8 214.9 284.4 216.1 285.0 217.3 285.6 218.3 286.2 219.3 286.8 220.3 287.4 221.3 288.0 222.2 288.6 223.0 289.2 223.7 289.8 224.3 290.4 224.8 291.0 225.2 291.6 225.6 292.2 225.8 292.8 225.9 293.4 226.0 294.0 226.0 294.6 225.9 295.2 225.7 295.8 225.5 296.4 225.2 297.0 225.0 297.6 224.7 298.2 224.4 298.8 224.0 299.4 223.6 300.0 223.1 300.6 222.7 301.2 222.2 301.8 221.8 302.4 221.3 303.0 220.9 303.6 220.5 304.2 220.1 304.8 219.7 305.4 219.3 306.0 218.9 306.6 218.6 307.2 218.3 307.8 218.0 308.4 217.7 309.0 217.4 309.6 217.2 310.2 216.9 310.8 216.7 311.4 216.5 312.0 216.3 312.6 216.1 313.2 216.0 313.8 215.9 314.4 215.9 315.0 215.9 315.6 216.1 316.2 216.5 316.8 217.1 317.4 218.0 318.0 219.1 318.6 220.2 319.2 221.2 319.8 222.2 320.4 223.2 321.0 224.2 321.6 225.1 322.2 226.1 322.8 227.0 323.4 227.9 324.0 228.7 324.6 229.5 325.2 230.3 325.8 231.1 326.4 231.7 327.0 232.3 327.6 232.9 328.2 233.5 328.8 234.0 329.4 234.5 330.0 235.0 330.6 235.5 331.2 236.0 331.8 236.4 332.4 236.8 333.0 237.2 333.6 237.6 334.2 238.0 334.8 238.4 335.4 238.8 336.0 239.2 336.6 239.5 337.2 239.9 337.8 240.2 338.4 240.6 339.0 240.9 339.6 241.3 340.2 241.6 340.8 242.0 341.4 242.3 342.0 242.7 342.6 243.0 343.2 243.4 343.8 243.8 344.4 244.1 345.0 244.5 345.6 244.8 346.2 245.2 346.8 245.6 347.4 245.9 348.0 246.3 348.6 246.6 349.2 247.0 349.8 247.3 350.4 247.7 351.0 248.0 351.6 248.3 352.2 248.7 352.8 249.0 353.4 249.3 354.0 249.6 354.6 249.9 355.2 250.2 355.8 250.5 356.4 250.8 357.0 251.0 357.6 251.3 358.2 251.5 358.8 251.7 359.4 252.0 360.0 252.2" stroke="#10e0b0" stroke-width="1.05" fill="none"/>
<path d="M276.6 198.7 277.2 199.8 277.8 200.9 278.4 202.0 279.0 203.3 279.6 204.6 280.2 205.9 280.8 207.2 281.4 208.6 282.0 210.0 282.6 211.3 283.2 212.3 283.8 213.4 284.4 214.4 285.0 215.3 285.6 216.2 286.2 217.0 286.8 217.8 287.4 218.6 288.0 219.3 288.6 219.9 289.2 220.4 289.8 220.9 290.4 221.3 291.0 221.5 291.6 221.7 292.2 221.8 292.8 221.8 293.4 221.8 294.0 221.7 294.6 221.5 295.2 221.3 295.8 221.0 296.4 220.7 297.0 220.3 297.6 220.0 298.2 219.6 298.8 219.2 299.4 218.7 300.0 218.1 300.6 217.6 301.2 217.1 301.8 216.6 302.4 216.1 303.0 215.6 303.6 215.1 304.2 214.7 304.8 214.3 305.4 213.9 306.0 213.5 306.6 213.1 307.2 212.8 307.8 212.5 308.4 212.2 309.0 212.0 309.6 211.7 310.2 211.5 310.8 211.2 311.4 211.0 312.0 210.8 312.6 210.6 313.2 210.5 313.8 210.5 314.4 210.5 315.0 210.7 315.6 211.0 316.2 211.5 316.8 212.2 317.4 213.4 318.0 214.9 318.6 216.3 319.2 217.7 319.8 219.0 320.4 220.3 321.0 221.5 321.6 222.7 322.2 223.9 322.8 225.1 323.4 226.2 324.0 227.3 324.6 228.3 325.2 229.3 325.8 230.2 326.4 231.0 327.0 231.7 327.6 232.4 328.2 233.0 328.8 233.6 329.4 234.2 330.0 234.8 330.6 235.3 331.2 235.8 331.8 236.2 332.4 236.7 333.0 237.1 333.6 237.5 334.2 237.9 334.8 238.3 335.4 238.7 336.0 239.0 336.6 239.4 337.2 239.7 337.8 240.1 338.4 240.4 339.0 240.7 339.6 241.1 340.2 241.4 340.8 241.7 341.4 242.1 342.0 242.4 342.6 242.7 343.2 243.1 343.8 243.4 344.4 243.7 345.0 244.1 345.6 244.4 346.2 244.8 346.8 245.1 347.4 245.4 348.0 245.8 348.6 246.1 349.2 246.5 349.8 246.8 350.4 247.1 351.0 247.4 351.6 247.8 352.2 248.1 352.8 248.4 353.4 248.7 354.0 249.0 354.6 249.3 355.2 249.5 355.8 249.8 356.4 250.1 357.0 250.3 357.6 250.5 358.2 250.8 358.8 251.0 359.4 251.2 360.0 251.4" stroke="#f020d0" stroke-width="1.05" fill="none"/>
<path d="M276.6 198.5 277.2 199.7 277.8 200.9 278.4 202.0 279.0 203.2 279.6 204.4 280.2 205.6 280.8 206.7 281.4 208.0 282.0 209.1 282.6 210.1 283.2 210.9 283.8 211.7 284.4 212.5 285.0 213.2 285.6 213.9 286.2 214.5 286.8 215.1 287.4 215.7 288.0 216.2 288.6 216.6 289.2 216.9 289.8 217.2 290.4 217.4 291.0 217.5 291.6 217.5 292.2 217.5 292.8 217.4 293.4 217.2 294.0 217.0 294.6 216.8 295.2 216.4 295.8 216.1 296.4 215.7 297.0 215.3 297.6 214.9 298.2 214.4 298.8 213.9 299.4 213.3 300.0 212.7 300.6 212.1 301.2 211.5 301.8 210.9 302.4 210.3 303.0 209.8 303.6 209.3 304.2 208.8 304.8 208.4 305.4 207.9 306.0 207.6 306.6 207.2 307.2 206.9 307.8 206.6 308.4 206.3 309.0 206.0 309.6 205.7 310.2 205.5 310.8 205.3 311.4 205.1 312.0 204.9 312.6 204.7 313.2 204.6 313.8 204.6 314.4 204.7 315.0 204.9 315.6 205.3 316.2 206.0 316.8 207.0 317.4 208.4 318.0 210.3 318.6 212.1 319.2 213.8 319.8 215.4 320.4 217.0 321.0 218.6 321.6 220.1 322.2 221.5 322.8 223.0 323.4 224.4 324.0 225.7 324.6 227.0 325.2 228.1 325.8 229.2 326.4 230.1 327.0 231.0 327.6 231.8 328.2 232.5 328.8 233.2 329.4 233.9 330.0 234.5 330.6 235.1 331.2 235.6 331.8 236.1 332.4 236.5 333.0 237.0 333.6 237.4 334.2 237.8 334.8 238.1 335.4 238.5 336.0 238.9 336.6 239.2 337.2 239.5 337.8 239.9 338.4 240.2 339.0 240.5 339.6 240.8 340.2 241.1 340.8 241.4 341.4 241.8 342.0 242.1 342.6 242.4 343.2 242.7 343.8 243.0 344.4 243.3 345.0 243.7 345.6 244.0 346.2 244.3 346.8 244.6 347.4 244.9 348.0 245.3 348.6 245.6 349.2 245.9 349.8 246.2 350.4 246.5 351.0 246.8 351.6 247.1 352.2 247.4 352.8 247.7 353.4 248.0 354.0 248.3 354.6 248.5 355.2 248.8 355.8 249.0 356.4 249.3 357.0 249.5 357.6 249.8 358.2 250.0 358.8 250.2 359.4 250.4 360.0 250.6" stroke="#508a30" stroke-width="1.05" fill="none"/>
<path d="M276.6 198.2 277.2 199.6 277.8 200.8 278.4 202.0 279.0 203.1 279.6 204.3 280.2 205.3 280.8 206.3 281.4 207.3 282.0 208.2 282.6 208.9 283.2 209.5 283.8 210.1 284.4 210.6 285.0 211.1 285.6 211.6 286.2 212.0 286.8 212.4 287.4 212.7 288.0 213.0 288.6 213.2 289.2 213.3 289.8 213.4 290.4 213.5 291.0 213.5 291.6 213.4 292.2 213.2 292.8 213.0 293.4 212.7 294.0 212.4 294.6 212.0 295.2 211.6 295.8 211.2 296.4 210.7 297.0 210.2 297.6 209.7 298.2 209.2 298.8 208.6 299.4 207.9 300.0 207.2 300.6 206.6 301.2 205.9 301.8 205.2 302.4 204.6 303.0 204.0 303.6 203.5 304.2 202.9 304.8 202.5 305.4 202.0 306.0 201.6 306.6 201.3 307.2 200.9 307.8 200.6 308.4 200.3 309.0 200.0 309.6 199.8 310.2 199.5 310.8 199.3 311.4 199.1 312.0 198.9 312.6 198.7 313.2 198.7 313.8 198.7 314.4 198.9 315.0 199.1 315.6 199.7 316.2 200.5 316.8 201.7 317.4 203.4 318.0 205.7 318.6 207.8 319.2 209.9 319.8 211.9 320.4 213.8 321.0 215.7 321.6 217.4 322.2 219.2 322.8 220.9 323.4 222.6 324.0 224.1 324.6 225.6 325.2 227.0 325.8 228.2 326.4 229.3 327.0 230.3 327.6 231.2 328.2 232.0 328.8 232.8 329.4 233.6 330.0 234.3 330.6 234.9 331.2 235.4 331.8 235.9 332.4 236.4 333.0 236.8 333.6 237.2 334.2 237.6 334.8 238.0 335.4 238.4 336.0 238.7 336.6 239.0 337.2 239.4 337.8 239.7 338.4 240.0 339.0 240.3 339.6 240.6 340.2 240.9 340.8 241.2 341.4 241.5 342.0 241.7 342.6 242.0 343.2 242.3 343.8 242.6 344.4 242.9 345.0 243.2 345.6 243.5 346.2 243.8 346.8 244.1 347.4 244.4 348.0 244.7 348.6 245.0 349.2 245.3 349.8 245.6 350.4 245.9 351.0 246.2 351.6 246.5 352.2 246.7 352.8 247.0 353.4 247.3 354.0 247.6 354.6 247.8 355.2 248.0 355.8 248.3 356.4 248.5 357.0 248.8 357.6 249.0 358.2 249.2 358.8 249.4 359.4 249.6 360.0 249.8" stroke="#8c8c10" stroke-width="1.05" fill="none"/>
<path d="M276.6 198.0 277.2 199.4 277.8 200.8 278.4 201.9 279.0 203.1 279.6 204.2 280.2 205.1 280.8 205.9 281.4 206.7 282.0 207.4 282.6 207.9 283.2 208.2 283.8 208.6 284.4 208.9 285.0 209.2 285.6 209.5 286.2 209.7 286.8 209.9 287.4 210.1 288.0 210.1 288.6 210.1 289.2 210.1 289.8 210.0 290.4 209.9 291.0 209.7 291.6 209.5 292.2 209.2 292.8 208.9 293.4 208.5 294.0 208.1 294.6 207.7 295.2 207.2 295.8 206.7 296.4 206.2 297.0 205.6 297.6 205.0 298.2 204.4 298.8 203.7 299.4 203.0 300.0 202.2 300.6 201.5 301.2 200.8 301.8 200.0 302.4 199.3 303.0 198.7 303.6 198.1 304.2 197.6 304.8 197.0 305.4 196.6 306.0 196.2 306.6 195.8 307.2 195.5 307.8 195.1 308.4 194.8 309.0 194.6 309.6 194.3 310.2 194.0 310.8 193.8 311.4 193.6 312.0 193.4 312.6 193.3 313.2 193.2 313.8 193.3 314.4 193.5 315.0 193.9 315.6 194.5 316.2 195.4 316.8 196.8 317.4 198.8 318.0 201.5 318.6 203.9 319.2 206.3 319.8 208.6 320.4 210.8 321.0 213.0 321.6 215.0 322.2 217.0 322.8 219.0 323.4 220.9 324.0 222.7 324.6 224.4 325.2 226.0 325.8 227.3 326.4 228.5 327.0 229.6 327.6 230.6 328.2 231.5 328.8 232.4 329.4 233.3 330.0 234.0 330.6 234.7 331.2 235.3 331.8 235.8 332.4 236.3 333.0 236.7 333.6 237.1 334.2 237.5 334.8 237.9 335.4 238.2 336.0 238.6 336.6 238.9 337.2 239.2 337.8 239.5 338.4 239.8 339.0 240.1 339.6 240.4 340.2 240.6 340.8 240.9 341.4 241.2 342.0 241.4 342.6 241.7 343.2 242.0 343.8 242.3 344.4 242.6 345.0 242.8 345.6 243.1 346.2 243.4 346.8 243.7 347.4 244.0 348.0 244.2 348.6 244.5 349.2 244.8 349.8 245.1 350.4 245.3 351.0 245.6 351.6 245.9 352.2 246.1 352.8 246.4 353.4 246.7 354.0 246.9 354.6 247.1 355.2 247.4 355.8 247.6 356.4 247.8 357.0 248.0 357.6 248.3 358.2 248.5 358.8 248.7 359.4 248.9 360.0 249.1" stroke="#1030f0" stroke-width="1.05" fill="none"/>
<path d="M276.6 197.7 277.2 199.3 277.8 200.7 278.4 201.9 279.0 203.0 279.6 204.0 280.2 204.8 280.8 205.4 281.4 205.9 282.0 206.4 282.6 206.6 283.2 206.7 283.8 206.8 284.4 206.8 285.0 206.9 285.6 207.0 286.2 207.0 286.8 207.0 287.4 206.9 288.0 206.7 288.6 206.5 289.2 206.3 289.8 206.0 290.4 205.7 291.0 205.4 291.6 205.0 292.2 204.6 292.8 204.1 293.4 203.6 294.0 203.1 294.6 202.5 295.2 202.0 295.8 201.4 296.4 200.8 297.0 200.1 297.6 199.4 298.2 198.7 298.8 198.0 299.4 197.1 300.0 196.3 300.6 195.5 301.2 194.7 301.8 193.9 302.4 193.1 303.0 192.4 303.6 191.8 304.2 191.2 304.8 190.7 305.4 190.2 306.0 189.7 306.6 189.4 307.2 189.0 307.8 188.7 308.4 188.4 309.0 188.1 309.6 187.8 310.2 187.6 310.8 187.4 311.4 187.2 312.0 187.0 312.6 186.8 313.2 186.8 313.8 186.9 314.4 187.2 315.0 187.6 315.6 188.4 316.2 189.4 316.8 191.1 317.4 193.4 318.0 196.5 318.6 199.3 319.2 202.1 319.8 204.8 320.4 207.3 321.0 209.8 321.6 212.2 322.2 214.5 322.8 216.8 323.4 219.0 324.0 221.0 324.6 222.9 325.2 224.7 325.8 226.3 326.4 227.6 327.0 228.9 327.6 230.0 328.2 231.0 328.8 232.0 329.4 232.9 330.0 233.7 330.6 234.5 331.2 235.1 331.8 235.6 332.4 236.1 333.0 236.5 333.6 237.0 334.2 237.4 334.8 237.7 335.4 238.1 336.0 238.4 336.6 238.7 337.2 239.0 337.8 239.3 338.4 239.6 339.0 239.8 339.6 240.1 340.2 240.4 340.8 240.6 341.4 240.9 342.0 241.1 342.6 241.3 343.2 241.6 343.8 241.9 344.4 242.1 345.0 242.4 345.6 242.6 346.2 242.9 346.8 243.2 347.4 243.4 348.0 243.7 348.6 243.9 349.2 244.2 349.8 244.4 350.4 244.7 351.0 244.9 351.6 245.2 352.2 245.4 352.8 245.7 353.4 245.9 354.0 246.1 354.6 246.3 355.2 246.6 355.8 246.8 356.4 247.0 357.0 247.2 357.6 247.4 358.2 247.6 358.8 247.8 359.4 248.0 360.0 248.2" stroke="#10d010" stroke-width="1.05" fill="none"/>
<path d="M276.6 197.7 277.2 199.3 277.8 200.7 278.4 201.9 279.0 203.0 279.6 204.0 280.2 204.7 280.8 205.2 281.4 205.7 282.0 206.1 282.6 206.2 283.2 206.2 283.8 206.2 284.4 206.2 285.0 206.2 285.6 206.2 286.2 206.2 286.8 206.1 287.4 205.9 288.0 205.7 288.6 205.4 289.2 205.1 289.8 204.7 290.4 204.4 291.0 204.0 291.6 203.6 292.2 203.1 292.8 202.6 293.4 202.1 294.0 201.5 294.6 200.9 295.2 200.4 295.8 199.7 296.4 199.1 297.0 198.4 297.6 197.7 298.2 197.0 298.8 196.2 299.4 195.3 300.0 194.5 300.6 193.7 301.2 192.8 301.8 192.0 302.4 191.2 303.0 190.5 303.6 189.8 304.2 189.2 304.8 188.7 305.4 188.2 306.0 187.8 306.6 187.4 307.2 187.0 307.8 186.7 308.4 186.4 309.0 186.1 309.6 185.8 310.2 185.6 310.8 185.4 311.4 185.2 312.0 185.0 312.6 184.8 313.2 184.8 313.8 185.0 314.4 185.2 315.0 185.7 315.6 186.5 316.2 187.6 316.8 189.3 317.4 191.8 318.0 195.0 318.6 197.9 319.2 200.8 319.8 203.6 320.4 206.3 321.0 208.8 321.6 211.3 322.2 213.7 322.8 216.1 323.4 218.4 324.0 220.5 324.6 222.5 325.2 224.3 325.8 225.9 326.4 227.4 327.0 228.6 327.6 229.8 328.2 230.8 328.8 231.9 329.4 232.8 330.0 233.6 330.6 234.4 331.2 235.0 331.8 235.5 332.4 236.0 333.0 236.5 333.6 236.9 334.2 237.3 334.8 237.7 335.4 238.0 336.0 238.3 336.6 238.7 337.2 238.9 337.8 239.2 338.4 239.5 339.0 239.8 339.6 240.0 340.2 240.3 340.8 240.5 341.4 240.8 342.0 241.0 342.6 241.2 343.2 241.5 343.8 241.7 344.4 242.0 345.0 242.2 345.6 242.5 346.2 242.7 346.8 243.0 347.4 243.2 348.0 243.5 348.6 243.7 349.2 244.0 349.8 244.2 350.4 244.5 351.0 244.7 351.6 245.0 352.2 245.2 352.8 245.4 353.4 245.7 354.0 245.9 354.6 246.1 355.2 246.3 355.8 246.5 356.4 246.7 357.0 246.9 357.6 247.1 358.2 247.3 358.8 247.5 359.4 247.7 360.0 247.9" stroke="#ff0a0a" stroke-width="1.05" fill="none"/>
<line x1="205.9" y1="22.4" x2="205.9" y2="11" stroke="#222" stroke-width="0.9"/>
<path d="M204.4 12 L207.4 12 L205.9 8 Z" fill="#222"/>
<line x1="211.7" y1="41" x2="211.7" y2="51.1" stroke="#222" stroke-width="0.9"/>
<path d="M210.2 50.1 L213.2 50.1 L211.7 54.1 Z" fill="#222"/>
<line x1="232.6" y1="94.9" x2="232.6" y2="82.8" stroke="#222" stroke-width="0.9"/>
<path d="M231.1 83.8 L234.1 83.8 L232.6 79.8 Z" fill="#222"/>
<line x1="268.6" y1="124" x2="268.6" y2="112.4" stroke="#222" stroke-width="0.9"/>
<path d="M267.1 113.4 L270.1 113.4 L268.6 109.4 Z" fill="#222"/>
<line x1="308.9" y1="31.5" x2="308.9" y2="18" stroke="#222" stroke-width="0.9"/>
<path d="M307.4 19 L310.4 19 L308.9 15 Z" fill="#222"/>
<line x1="206.6" y1="192.8" x2="206.6" y2="181.3" stroke="#222" stroke-width="0.9"/>
<path d="M205.1 182.3 L208.1 182.3 L206.6 178.3 Z" fill="#222"/>
<line x1="215" y1="211" x2="215" y2="222.5" stroke="#222" stroke-width="0.9"/>
<path d="M213.5 221.5 L216.5 221.5 L215 225.5 Z" fill="#222"/>
<line x1="231.8" y1="242.9" x2="231.8" y2="232" stroke="#222" stroke-width="0.9"/>
<path d="M230.3 233 L233.3 233 L231.8 229 Z" fill="#222"/>
<line x1="273.8" y1="296.6" x2="273.8" y2="284.5" stroke="#222" stroke-width="0.9"/>
<path d="M272.3 285.5 L275.3 285.5 L273.8 281.5 Z" fill="#222"/>
<line x1="306.3" y1="184.3" x2="306.3" y2="173" stroke="#222" stroke-width="0.9"/>
<path d="M304.8 174 L307.8 174 L306.3 170 Z" fill="#222"/>
<rect x="236.7" y="90.4" width="1.6" height="7.5" fill="#f5101c"/>
<line x1="237.2" y1="90.85" x2="235.15" y2="93" stroke="#f5101c" stroke-width="1.45"/>
<rect x="240.15" y="88.75" width="4.5" height="1.3" fill="#f5101c"/>
<rect x="241.75" y="87.15" width="1.3" height="4.5" fill="#f5101c"/>
<rect x="319.5" y="26.4" width="1.5" height="8" fill="#f5101c"/>
<line x1="320" y1="26.85" x2="317.85" y2="29.5" stroke="#f5101c" stroke-width="1.45"/>
<rect x="323.4" y="25.05" width="4.4" height="1.3" fill="#f5101c"/>
<rect x="324.95" y="23.5" width="1.3" height="4.4" fill="#f5101c"/>
<rect x="235.2" y="236.2" width="1.6" height="8.3" fill="#f5101c"/>
<line x1="235.7" y1="236.65" x2="233.95" y2="239" stroke="#f5101c" stroke-width="1.45"/>
<text x="239.1" y="238.5" font-size="8.4" text-anchor="start" font-weight="bold" font-style="normal" fill="#f5101c">2</text>
<rect x="244.05" y="234.62" width="4.5" height="1.35" fill="#f5101c"/>
<rect x="245.62" y="233.05" width="1.35" height="4.5" fill="#f5101c"/>
<rect x="321" y="184.9" width="1.6" height="7.9" fill="#f5101c"/>
<line x1="321.5" y1="185.35" x2="319.35" y2="187.9" stroke="#f5101c" stroke-width="1.45"/>
<rect x="128.9" y="242.5" width="1.6" height="6.9" fill="#111"/>
<line x1="129.4" y1="242.95" x2="127.35" y2="245" stroke="#111" stroke-width="1.45"/>
<rect x="133.6" y="240.45" width="3.4" height="1.1" fill="#111"/>
<rect x="134.75" y="239.3" width="1.1" height="3.4" fill="#111"/>
<rect x="126.8" y="129.7" width="1.8" height="7.1" fill="#111"/>
<line x1="127.3" y1="130.15" x2="124.85" y2="132.4" stroke="#111" stroke-width="1.6"/>
<text x="323.6" y="186.4" font-size="7.8" text-anchor="start" font-weight="bold" font-style="normal" fill="#f5101c">2</text>
<rect x="328.8" y="183.42" width="4.6" height="1.35" fill="#f5101c"/>
<rect x="330.43" y="181.8" width="1.35" height="4.6" fill="#f5101c"/>
</svg></body></html>
